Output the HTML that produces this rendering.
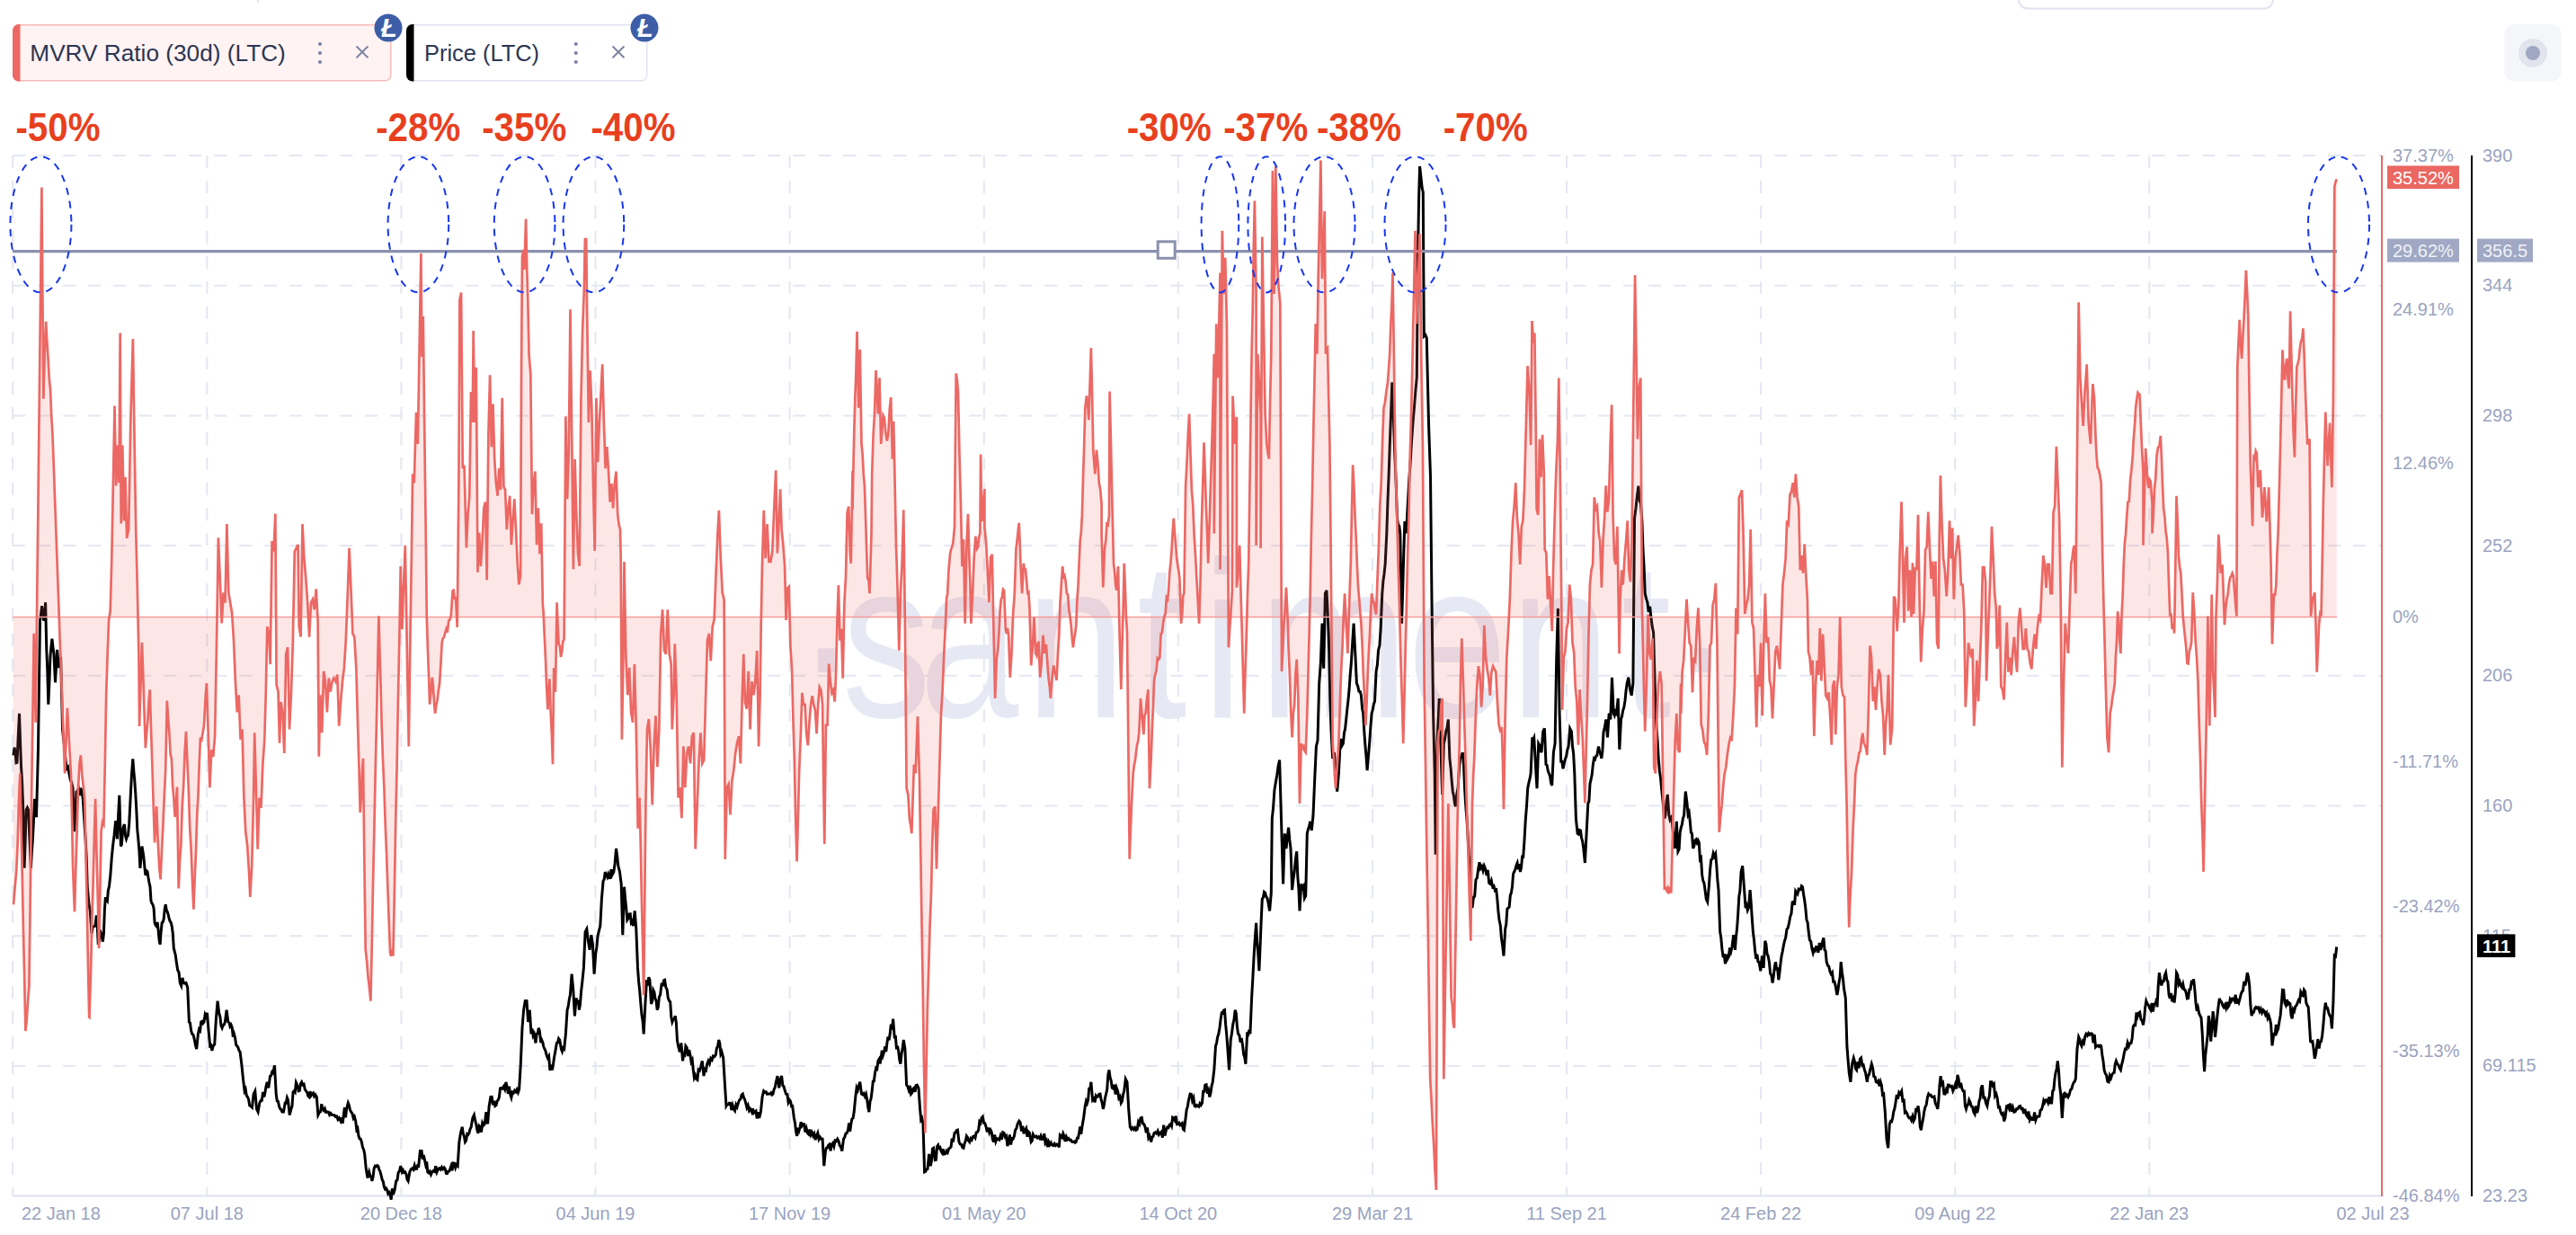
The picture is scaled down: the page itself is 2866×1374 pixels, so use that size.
<!DOCTYPE html>
<html><head><meta charset="utf-8"><title>MVRV Ratio (30d) (LTC) vs Price (LTC)</title>
<style>html,body{margin:0;padding:0;background:#fff;width:2866px;height:1374px;overflow:hidden}svg{display:block}</style>
</head><body>
<svg width="2866" height="1374" viewBox="0 0 2866 1374">
<rect width="2866" height="1374" fill="#fff"/>
<line x1="287" y1="0" x2="287" y2="2.8" stroke="#e0e4ef" stroke-width="2"/>
<rect x="2246" y="-40" width="283" height="49.5" rx="10" fill="#fff" stroke="#e0e4ef" stroke-width="2"/>
<rect x="2786.5" y="27" width="63" height="63.5" rx="11" fill="#f5f6fa"/>
<circle cx="2818" cy="59" r="16" fill="#e1e4ed"/><circle cx="2818" cy="59" r="8" fill="#9fa7c3"/>
<rect x="14.75" y="27.75" width="420" height="62" rx="6" fill="#fff3f3" stroke="#f6baba" stroke-width="1.5"/>
<path d="M21,27 h1.5 v63.5 h-1.5 a7,7 0 0 1 -7,-7 v-49.5 a7,7 0 0 1 7,-7 z" fill="#ec6864"/>
<text x="33.3" y="67.5" font-family="Liberation Sans, Arial, sans-serif" font-size="26" fill="#2c3652" textLength="284.5" lengthAdjust="spacingAndGlyphs">MVRV Ratio (30d) (LTC)</text>
<rect x="452.75" y="27.75" width="267" height="62" rx="6" fill="#fff" stroke="#e0e4ef" stroke-width="1.5"/>
<path d="M459,27 h1.5 v63.5 h-1.5 a7,7 0 0 1 -7,-7 v-49.5 a7,7 0 0 1 7,-7 z" fill="#000"/>
<text x="472" y="67.5" font-family="Liberation Sans, Arial, sans-serif" font-size="26" fill="#2c3652" textLength="128" lengthAdjust="spacingAndGlyphs">Price (LTC)</text>
<circle cx="356" cy="49" r="2.1" fill="#7d86a3"/>
<circle cx="356" cy="59" r="2.1" fill="#7d86a3"/>
<circle cx="356" cy="69" r="2.1" fill="#7d86a3"/>
<circle cx="640.75" cy="49" r="2.1" fill="#7d86a3"/>
<circle cx="640.75" cy="59" r="2.1" fill="#7d86a3"/>
<circle cx="640.75" cy="69" r="2.1" fill="#7d86a3"/>
<path d="M397.1,52 l11.8,11.8 M408.90000000000003,52 l-11.8,11.8" stroke="#7d86a3" stroke-width="2" stroke-linecap="round"/>
<path d="M682.1,52 l11.8,11.8 M693.9,52 l-11.8,11.8" stroke="#7d86a3" stroke-width="2" stroke-linecap="round"/>
<circle cx="432" cy="31" r="15.5" fill="#3d5ea6"/>
<text x="432.8" y="40.8" font-family="Liberation Sans, Arial, sans-serif" font-size="29" font-weight="bold" font-style="italic" fill="#fff" text-anchor="middle">Ł</text>
<circle cx="717" cy="31" r="15.5" fill="#3d5ea6"/>
<text x="717.8" y="40.8" font-family="Liberation Sans, Arial, sans-serif" font-size="29" font-weight="bold" font-style="italic" fill="#fff" text-anchor="middle">Ł</text>
<line x1="14.25" y1="173.0" x2="2650" y2="173.0" stroke="#e4e7f1" stroke-width="2" stroke-dasharray="14 14"/>
<line x1="14.25" y1="317.7" x2="2650" y2="317.7" stroke="#e4e7f1" stroke-width="2" stroke-dasharray="14 14"/>
<line x1="14.25" y1="462.4" x2="2650" y2="462.4" stroke="#e4e7f1" stroke-width="2" stroke-dasharray="14 14"/>
<line x1="14.25" y1="607.1" x2="2650" y2="607.1" stroke="#e4e7f1" stroke-width="2" stroke-dasharray="14 14"/>
<line x1="14.25" y1="751.8" x2="2650" y2="751.8" stroke="#e4e7f1" stroke-width="2" stroke-dasharray="14 14"/>
<line x1="14.25" y1="896.5" x2="2650" y2="896.5" stroke="#e4e7f1" stroke-width="2" stroke-dasharray="14 14"/>
<line x1="14.25" y1="1041.2" x2="2650" y2="1041.2" stroke="#e4e7f1" stroke-width="2" stroke-dasharray="14 14"/>
<line x1="14.25" y1="1185.9" x2="2650" y2="1185.9" stroke="#e4e7f1" stroke-width="2" stroke-dasharray="14 14"/>
<line x1="14.2" y1="173" x2="14.2" y2="1330.6" stroke="#e4e7f1" stroke-width="2" stroke-dasharray="14 14"/>
<line x1="230.3" y1="173" x2="230.3" y2="1330.6" stroke="#e4e7f1" stroke-width="2" stroke-dasharray="14 14"/>
<line x1="446.4" y1="173" x2="446.4" y2="1330.6" stroke="#e4e7f1" stroke-width="2" stroke-dasharray="14 14"/>
<line x1="662.5" y1="173" x2="662.5" y2="1330.6" stroke="#e4e7f1" stroke-width="2" stroke-dasharray="14 14"/>
<line x1="878.6" y1="173" x2="878.6" y2="1330.6" stroke="#e4e7f1" stroke-width="2" stroke-dasharray="14 14"/>
<line x1="1094.8" y1="173" x2="1094.8" y2="1330.6" stroke="#e4e7f1" stroke-width="2" stroke-dasharray="14 14"/>
<line x1="1310.8" y1="173" x2="1310.8" y2="1330.6" stroke="#e4e7f1" stroke-width="2" stroke-dasharray="14 14"/>
<line x1="1527.0" y1="173" x2="1527.0" y2="1330.6" stroke="#e4e7f1" stroke-width="2" stroke-dasharray="14 14"/>
<line x1="1743.0" y1="173" x2="1743.0" y2="1330.6" stroke="#e4e7f1" stroke-width="2" stroke-dasharray="14 14"/>
<line x1="1959.1" y1="173" x2="1959.1" y2="1330.6" stroke="#e4e7f1" stroke-width="2" stroke-dasharray="14 14"/>
<line x1="2175.2" y1="173" x2="2175.2" y2="1330.6" stroke="#e4e7f1" stroke-width="2" stroke-dasharray="14 14"/>
<line x1="2391.3" y1="173" x2="2391.3" y2="1330.6" stroke="#e4e7f1" stroke-width="2" stroke-dasharray="14 14"/>
<line x1="14.25" y1="1330.6" x2="2650" y2="1330.6" stroke="#dde1ee" stroke-width="2"/>
<text x="1114.6 1170.8 1278.9 1427.0 1581.6 1672.9 1751.5 1957.8 2101.0 2255.1 2334.2" y="798.5" dy="-50.8 50.8 0 0 0 0 0 0 0 0 -50.8" transform="scale(0.8,1)" font-family="Liberation Sans, sans-serif" font-size="248" fill="#e6e9f4">.santiment.</text>
<path d="M15.0,840.3 L16.0,831.7 L17.0,836.2 L18.0,848.7 L19.0,848.4 L20.2,820.5 L21.5,793.7 L22.5,823.7 L23.5,852.4 L24.5,868.1 L25.5,892.9 L27.1,965.8 L28.1,936.7 L29.1,901.0 L30.4,898.4 L31.6,901.0 L33.0,934.2 L34.4,965.8 L35.4,947.5 L36.4,933.4 L37.4,913.3 L38.5,888.9 L39.5,897.1 L40.5,909.1 L41.5,871.3 L42.5,832.2 L43.5,760.2 L44.5,690.5 L45.5,683.4 L46.6,674.3 L47.6,679.2 L48.6,690.5 L49.6,687.7 L50.6,670.2 L51.8,722.9 L52.8,746.8 L53.8,783.6 L54.9,759.0 L55.9,731.0 L56.9,719.7 L57.9,710.7 L58.9,719.6 L59.9,726.9 L61.5,759.3 L62.6,740.5 L63.6,722.9 L64.6,733.6 L65.6,743.1 L66.6,735.8 L67.6,731.0 L68.6,772.3 L69.6,811.9 L71.3,827.2 L72.9,844.3 L74.2,855.2 L75.6,853.5 L76.9,860.5 L78.3,867.7 L79.6,870.6 L81.0,876.7 L82.0,901.6 L83.0,925.3 L84.0,902.2 L85.0,880.8 L86.2,880.4 L87.4,877.2 L88.7,885.1 L89.9,876.7 L91.1,880.1 L92.3,888.9 L93.7,911.8 L95.1,933.4 L96.2,954.3 L97.2,986.0 L98.8,1004.2 L100.4,1014.4 L102.0,1038.7 L103.2,1031.3 L104.5,1030.6 L105.9,1030.2 L107.3,1018.4 L108.3,1031.0 L109.3,1050.8 L110.3,1046.7 L111.3,1034.6 L112.3,1037.8 L113.4,1042.7 L114.4,1047.7 L115.4,1038.7 L116.4,1011.8 L117.4,998.2 L118.4,1000.8 L119.4,1002.2 L120.4,990.6 L121.5,986.0 L122.8,974.3 L124.2,955.1 L125.5,941.5 L127.1,928.9 L128.7,913.2 L130.4,933.4 L131.6,907.7 L132.8,884.8 L134.4,941.5 L135.4,939.4 L136.4,925.3 L137.4,919.8 L138.5,917.2 L139.5,929.8 L140.5,933.4 L141.5,930.5 L142.5,929.4 L143.7,916.4 L144.9,892.9 L146.4,863.1 L147.8,844.3 L148.8,857.7 L149.8,868.6 L150.8,883.0 L151.8,901.0 L152.8,923.1 L153.8,933.4 L154.9,946.4 L155.9,965.8 L156.9,955.0 L157.9,941.5 L158.9,946.9 L159.9,953.6 L160.9,964.6 L161.9,973.9 L163.0,968.9 L164.0,969.8 L165.0,976.5 L166.0,982.0 L167.0,986.4 L168.0,1002.2 L169.0,1005.0 L170.0,1006.3 L171.1,1010.6 L172.1,1026.5 L173.1,1029.3 L174.1,1030.6 L175.1,1026.0 L176.1,1034.6 L177.1,1045.7 L178.1,1050.8 L179.1,1037.2 L180.2,1026.5 L181.2,1026.0 L182.2,1022.5 L183.2,1011.9 L184.2,1006.3 L185.2,1012.3 L186.2,1014.4 L187.2,1017.6 L188.3,1022.5 L189.3,1025.2 L190.3,1026.5 L191.3,1031.1 L192.3,1038.7 L193.3,1054.9 L194.3,1058.9 L195.3,1062.7 L196.4,1071.1 L197.7,1079.2 L199.0,1081.7 L200.3,1093.6 L201.7,1096.8 L203.0,1087.9 L204.3,1093.6 L205.7,1094.2 L207.0,1093.6 L208.7,1098.6 L210.4,1137.0 L211.5,1138.0 L212.6,1146.5 L213.7,1150.3 L215.0,1151.2 L216.4,1157.0 L217.5,1162.8 L218.7,1167.0 L220.4,1150.3 L221.5,1145.2 L222.6,1146.6 L223.7,1137.0 L224.8,1136.4 L225.9,1138.5 L227.0,1137.0 L228.2,1128.8 L229.3,1131.0 L230.4,1127.0 L232.1,1147.0 L233.7,1163.7 L234.8,1163.0 L235.9,1168.9 L237.1,1163.7 L238.7,1162.0 L240.4,1133.6 L242.1,1113.6 L243.7,1127.0 L244.9,1131.4 L246.0,1141.2 L247.1,1143.7 L248.2,1140.8 L249.3,1140.1 L250.4,1137.0 L252.1,1123.6 L253.8,1137.0 L254.9,1137.5 L256.0,1141.9 L257.1,1140.3 L258.2,1143.1 L259.3,1153.5 L260.4,1150.3 L261.5,1154.2 L262.7,1162.5 L263.8,1163.7 L264.9,1165.3 L266.0,1168.9 L267.1,1170.4 L268.8,1183.7 L270.5,1200.4 L272.1,1213.8 L273.2,1211.7 L274.3,1218.9 L275.5,1220.5 L276.6,1223.1 L277.7,1230.0 L278.8,1230.5 L280.5,1232.1 L282.1,1217.1 L283.8,1213.8 L285.5,1233.8 L287.1,1237.1 L288.8,1227.1 L290.1,1224.5 L291.3,1224.4 L292.6,1214.9 L293.8,1220.5 L294.9,1215.5 L296.0,1208.7 L297.2,1203.8 L298.8,1210.4 L300.5,1197.1 L301.6,1196.8 L302.7,1192.7 L303.8,1193.7 L305.5,1185.4 L307.2,1217.1 L308.3,1224.9 L309.4,1225.4 L310.5,1230.5 L311.6,1233.6 L312.7,1234.3 L313.9,1237.1 L315.5,1237.1 L317.2,1227.1 L318.3,1227.2 L319.4,1221.2 L320.5,1223.8 L322.2,1240.5 L323.9,1233.8 L325.0,1230.5 L326.1,1214.9 L327.2,1213.8 L328.3,1215.1 L329.4,1204.4 L330.6,1207.1 L332.2,1213.8 L333.3,1213.4 L334.4,1205.8 L335.6,1203.8 L336.8,1206.9 L338.1,1206.2 L339.3,1212.1 L340.6,1213.8 L341.7,1215.4 L342.8,1219.4 L343.9,1220.5 L345.0,1214.2 L346.1,1218.8 L347.2,1217.1 L348.5,1216.0 L349.7,1219.8 L351.0,1218.1 L352.3,1220.5 L353.9,1240.5 L355.6,1237.1 L356.7,1236.7 L357.8,1228.3 L358.9,1233.8 L360.2,1235.4 L361.4,1233.4 L362.7,1237.4 L363.9,1237.1 L365.3,1237.2 L366.6,1240.3 L367.9,1238.5 L369.3,1240.4 L370.6,1240.5 L372.0,1240.6 L373.3,1242.4 L374.6,1241.9 L376.0,1245.5 L377.3,1243.8 L379.0,1247.2 L380.1,1243.4 L381.2,1249.8 L382.3,1240.5 L383.4,1232.1 L384.5,1243.3 L385.6,1233.8 L387.3,1227.1 L388.4,1229.8 L389.5,1235.0 L390.7,1237.1 L391.9,1238.9 L393.2,1244.2 L394.4,1242.4 L395.7,1247.2 L396.8,1256.8 L397.9,1255.3 L399.0,1263.9 L400.1,1266.8 L401.2,1267.2 L402.3,1270.5 L403.5,1276.6 L404.6,1278.8 L405.7,1283.9 L407.3,1300.6 L409.0,1310.6 L410.7,1303.9 L411.8,1307.9 L412.9,1309.5 L414.0,1313.9 L415.1,1309.0 L416.2,1299.6 L417.4,1297.2 L418.5,1297.9 L419.6,1296.6 L420.7,1297.2 L421.8,1301.2 L422.9,1303.2 L424.0,1307.3 L425.2,1312.4 L426.3,1314.6 L427.4,1320.6 L428.5,1323.0 L429.6,1322.0 L430.7,1324.0 L431.8,1328.0 L432.9,1326.6 L434.1,1329.0 L435.2,1334.6 L436.3,1322.3 L437.4,1329.0 L439.1,1324.0 L440.7,1313.9 L442.0,1313.0 L443.2,1304.4 L444.5,1302.9 L445.7,1297.2 L447.4,1303.9 L448.5,1302.0 L449.6,1304.5 L450.8,1303.9 L451.9,1306.2 L453.0,1312.2 L454.1,1313.9 L455.8,1303.9 L457.4,1300.6 L458.7,1299.9 L459.9,1301.2 L461.2,1296.5 L462.4,1300.6 L463.6,1300.4 L464.7,1296.8 L465.8,1297.2 L467.4,1280.6 L469.1,1280.6 L470.2,1289.8 L471.3,1285.1 L472.5,1290.6 L473.6,1295.8 L474.7,1292.4 L475.8,1303.9 L477.0,1304.9 L478.3,1303.3 L479.5,1306.7 L480.8,1303.9 L482.1,1302.6 L483.5,1303.4 L484.8,1297.3 L486.1,1303.9 L487.5,1300.6 L488.8,1299.7 L490.2,1301.1 L491.5,1298.5 L492.8,1300.6 L494.2,1298.9 L495.3,1300.5 L496.4,1305.4 L497.5,1305.6 L498.6,1303.3 L499.7,1303.0 L500.8,1300.6 L501.9,1297.4 L503.1,1302.3 L504.2,1293.9 L505.4,1294.1 L506.7,1299.1 L507.9,1295.8 L509.2,1297.2 L510.9,1270.5 L512.5,1260.5 L514.2,1253.8 L515.3,1261.3 L516.4,1264.0 L517.5,1270.5 L518.6,1269.0 L519.8,1261.5 L520.9,1262.2 L522.0,1260.4 L523.1,1256.0 L524.2,1253.8 L525.9,1243.8 L527.5,1240.5 L528.7,1246.7 L529.8,1251.0 L530.9,1257.2 L532.0,1260.8 L533.1,1252.6 L534.2,1253.8 L535.5,1259.6 L536.7,1249.3 L538.0,1251.9 L539.2,1250.5 L540.9,1237.1 L542.6,1250.5 L544.2,1230.5 L545.9,1220.5 L547.2,1220.4 L548.4,1229.3 L549.7,1224.8 L550.9,1230.5 L552.0,1229.7 L553.1,1225.1 L554.3,1223.8 L555.4,1220.6 L556.5,1210.8 L557.6,1210.4 L558.9,1211.2 L560.3,1208.8 L561.6,1211.8 L562.9,1203.9 L564.3,1210.4 L565.4,1216.8 L566.5,1208.8 L567.6,1217.1 L568.9,1221.1 L570.1,1215.1 L571.4,1215.9 L572.6,1213.2 L573.9,1214.7 L575.1,1212.2 L576.4,1215.5 L577.6,1212.1 L579.3,1183.7 L581.0,1143.7 L582.6,1123.6 L584.3,1113.6 L586.0,1113.6 L587.6,1137.0 L589.3,1123.6 L591.0,1150.3 L592.1,1144.5 L593.2,1152.3 L594.3,1150.3 L596.0,1160.4 L597.1,1150.5 L598.2,1149.8 L599.3,1143.7 L600.4,1147.2 L601.6,1159.9 L602.7,1157.0 L603.8,1159.7 L604.9,1164.8 L606.0,1167.0 L607.1,1169.8 L608.2,1174.3 L609.3,1177.0 L610.6,1174.9 L611.9,1190.9 L613.1,1184.6 L614.4,1190.4 L615.5,1184.3 L616.6,1176.3 L617.7,1170.4 L619.4,1160.4 L620.5,1159.9 L621.6,1155.5 L622.7,1157.0 L624.4,1167.0 L625.5,1169.8 L626.6,1165.9 L627.7,1167.0 L629.4,1150.3 L631.1,1123.6 L632.2,1119.6 L633.3,1111.9 L634.4,1106.9 L636.1,1083.6 L637.7,1100.3 L639.4,1130.3 L641.1,1110.3 L642.2,1116.4 L643.3,1112.7 L644.4,1123.6 L645.5,1117.1 L646.6,1103.0 L647.7,1093.6 L649.4,1076.9 L651.1,1036.8 L652.8,1033.5 L654.4,1046.8 L656.1,1056.8 L657.8,1040.2 L659.4,1050.2 L661.1,1083.6 L662.8,1060.2 L663.9,1053.9 L665.0,1041.5 L666.1,1036.8 L667.8,1030.1 L669.4,1000.1 L671.1,980.1 L672.2,978.5 L673.3,970.1 L674.5,973.4 L675.6,975.8 L676.7,972.6 L677.8,976.7 L678.9,976.6 L680.0,967.2 L681.1,973.4 L682.8,970.0 L684.1,960.9 L685.5,944.0 L686.6,951.8 L687.8,963.4 L689.5,970.0 L691.2,983.4 L692.8,1040.2 L694.5,986.7 L695.6,999.6 L696.7,1010.0 L697.8,1023.5 L698.9,1021.8 L700.1,1017.0 L701.2,1016.8 L702.3,1026.5 L703.4,1025.0 L704.5,1030.1 L706.2,1013.4 L707.8,1033.5 L709.5,1076.9 L710.6,1091.7 L711.7,1102.2 L712.9,1116.9 L714.0,1129.1 L715.1,1136.2 L716.2,1150.3 L717.9,1116.9 L719.5,1090.2 L720.6,1096.4 L721.8,1087.2 L722.9,1090.2 L724.5,1116.9 L725.7,1113.8 L726.8,1101.4 L727.9,1103.6 L729.0,1111.1 L730.1,1113.5 L731.2,1123.6 L732.3,1120.6 L733.4,1108.9 L734.6,1106.9 L736.2,1093.6 L737.3,1097.3 L738.5,1090.7 L739.6,1090.2 L740.8,1098.3 L742.1,1100.9 L743.3,1110.4 L744.6,1113.6 L745.7,1114.5 L746.8,1131.5 L747.9,1137.0 L749.0,1134.2 L750.1,1133.8 L751.3,1130.3 L752.4,1138.4 L753.5,1157.8 L754.6,1163.7 L756.3,1170.4 L757.9,1160.4 L759.6,1180.4 L760.7,1172.4 L761.8,1173.5 L762.9,1163.7 L764.2,1165.6 L765.4,1175.0 L766.7,1168.0 L767.9,1173.7 L769.1,1181.4 L770.2,1179.2 L771.3,1190.4 L772.4,1199.0 L773.5,1196.5 L774.6,1200.4 L775.9,1201.4 L777.1,1190.1 L778.4,1191.1 L779.6,1187.1 L781.3,1180.4 L783.0,1197.1 L784.2,1189.5 L785.5,1190.7 L786.7,1183.9 L788.0,1180.4 L789.4,1183.4 L790.8,1177.5 L792.2,1179.2 L793.5,1174.8 L794.9,1175.5 L796.3,1173.7 L797.4,1166.3 L798.6,1163.9 L799.7,1157.0 L800.8,1160.8 L801.9,1172.7 L803.0,1170.4 L804.7,1177.0 L806.3,1203.8 L808.0,1230.5 L809.1,1228.8 L810.2,1228.8 L811.4,1227.1 L812.6,1227.4 L813.9,1235.1 L815.1,1229.6 L816.4,1233.8 L817.6,1235.7 L818.9,1229.1 L820.1,1231.5 L821.4,1227.1 L822.6,1223.8 L823.9,1222.8 L825.1,1218.2 L826.4,1217.1 L827.5,1221.1 L828.6,1223.2 L829.7,1227.1 L831.0,1232.3 L832.2,1229.8 L833.5,1235.6 L834.7,1233.8 L836.4,1237.1 L837.5,1233.3 L838.6,1238.2 L839.7,1237.1 L841.0,1236.1 L842.2,1244.4 L843.5,1237.2 L844.7,1243.8 L846.4,1237.1 L848.1,1220.5 L849.7,1213.8 L851.0,1215.2 L852.3,1214.8 L853.5,1217.3 L854.8,1217.1 L856.7,1217.1 L857.8,1215.8 L858.9,1217.9 L860.0,1217.1 L861.1,1212.1 L862.2,1210.0 L863.4,1203.8 L865.0,1197.1 L866.7,1210.4 L868.4,1200.4 L869.6,1197.0 L870.9,1208.0 L872.1,1208.8 L873.4,1213.8 L874.6,1217.3 L875.9,1217.6 L877.1,1226.4 L878.4,1223.8 L879.5,1225.2 L880.6,1230.7 L881.7,1230.5 L883.4,1243.8 L884.5,1249.1 L885.6,1258.8 L886.7,1263.9 L887.8,1254.7 L889.0,1257.8 L890.1,1253.8 L891.2,1248.3 L892.3,1252.4 L893.4,1250.5 L894.7,1250.6 L895.9,1259.5 L897.2,1255.5 L898.4,1260.5 L899.7,1261.9 L900.9,1256.7 L902.2,1262.4 L903.4,1259.9 L904.7,1263.6 L905.9,1261.4 L907.2,1268.2 L908.4,1263.9 L909.8,1260.5 L911.1,1267.5 L912.4,1265.1 L913.8,1267.2 L915.1,1267.2 L916.8,1297.2 L918.4,1280.6 L919.6,1277.1 L920.7,1276.8 L921.8,1273.9 L922.9,1273.1 L924.0,1280.4 L925.1,1273.9 L926.5,1271.9 L927.8,1275.5 L929.1,1268.9 L930.5,1269.5 L931.8,1267.2 L933.1,1269.7 L934.3,1274.5 L935.6,1276.0 L936.8,1280.6 L938.5,1267.2 L939.7,1265.3 L941.0,1261.0 L942.2,1260.5 L943.5,1257.2 L944.6,1249.5 L945.7,1258.7 L946.8,1250.5 L947.9,1244.9 L949.1,1244.0 L950.2,1237.1 L951.8,1220.5 L953.1,1210.2 L954.3,1212.9 L955.6,1207.3 L956.8,1203.8 L958.5,1217.1 L959.8,1217.8 L961.0,1216.5 L962.3,1219.8 L963.5,1217.1 L964.6,1222.8 L965.7,1231.4 L966.9,1237.1 L968.0,1225.3 L969.1,1222.2 L970.2,1213.8 L971.3,1202.9 L972.4,1202.7 L973.5,1193.7 L974.7,1188.3 L975.8,1189.2 L976.9,1180.4 L978.0,1178.4 L979.1,1183.4 L980.2,1177.0 L981.3,1168.8 L982.4,1174.1 L983.6,1170.4 L984.7,1164.2 L985.8,1170.1 L986.9,1160.4 L988.0,1153.6 L989.1,1157.2 L990.2,1150.3 L991.3,1139.7 L992.5,1145.4 L993.6,1133.6 L995.2,1153.7 L996.4,1153.5 L997.5,1167.3 L998.6,1163.7 L999.7,1169.6 L1000.8,1179.3 L1001.9,1183.7 L1003.0,1172.2 L1004.1,1166.9 L1005.3,1157.0 L1006.9,1167.0 L1008.6,1207.1 L1009.8,1208.6 L1011.1,1212.7 L1012.4,1208.0 L1013.6,1217.1 L1014.7,1215.8 L1015.8,1211.3 L1016.9,1210.4 L1018.1,1214.8 L1019.2,1207.6 L1020.3,1207.1 L1022.0,1210.4 L1023.6,1233.8 L1024.7,1246.0 L1025.8,1244.3 L1027.0,1250.5 L1028.6,1303.9 L1029.7,1303.4 L1030.9,1300.8 L1032.0,1300.6 L1033.6,1283.9 L1035.3,1297.2 L1036.4,1291.5 L1037.5,1278.0 L1038.6,1277.2 L1040.3,1290.6 L1041.4,1290.3 L1042.5,1275.8 L1043.7,1273.9 L1044.8,1277.3 L1045.9,1276.6 L1047.0,1280.6 L1048.1,1282.4 L1049.2,1278.2 L1050.3,1283.9 L1051.7,1283.6 L1053.0,1280.5 L1054.3,1282.2 L1055.7,1277.9 L1057.0,1277.2 L1058.1,1275.8 L1059.2,1266.8 L1060.4,1270.5 L1062.0,1260.5 L1063.1,1260.0 L1064.2,1257.7 L1065.4,1257.2 L1067.0,1270.5 L1068.3,1272.9 L1069.5,1273.2 L1070.8,1276.6 L1072.0,1277.2 L1073.1,1272.1 L1074.3,1269.2 L1075.4,1263.9 L1076.5,1265.4 L1077.6,1269.0 L1078.7,1270.5 L1080.0,1266.7 L1081.2,1268.1 L1082.5,1264.6 L1083.7,1263.9 L1085.0,1265.9 L1086.2,1259.9 L1087.5,1259.5 L1088.7,1257.2 L1089.8,1247.9 L1091.0,1249.4 L1092.1,1243.8 L1093.3,1242.5 L1094.6,1249.4 L1095.8,1249.8 L1097.1,1253.8 L1098.3,1259.4 L1099.6,1254.6 L1100.8,1260.0 L1102.1,1257.2 L1103.2,1259.5 L1104.3,1267.1 L1105.4,1270.5 L1106.7,1262.4 L1107.9,1269.9 L1109.2,1266.7 L1110.4,1267.2 L1111.8,1268.1 L1113.1,1263.7 L1114.4,1267.8 L1115.8,1259.8 L1117.1,1260.5 L1118.4,1265.0 L1119.6,1263.9 L1120.9,1275.1 L1122.1,1270.5 L1123.4,1262.5 L1124.6,1273.5 L1125.9,1266.8 L1127.1,1267.2 L1128.4,1264.1 L1129.6,1257.3 L1130.9,1255.3 L1132.1,1250.5 L1133.8,1247.2 L1135.1,1248.6 L1136.5,1258.5 L1137.8,1252.6 L1139.1,1261.4 L1140.5,1257.2 L1141.7,1255.3 L1143.0,1264.7 L1144.2,1259.1 L1145.5,1260.5 L1147.2,1270.5 L1148.3,1269.1 L1149.4,1262.0 L1150.5,1263.9 L1151.8,1264.9 L1153.0,1264.1 L1154.3,1266.0 L1155.5,1264.9 L1156.8,1266.6 L1158.0,1263.7 L1159.3,1267.4 L1160.5,1267.2 L1161.8,1261.2 L1163.0,1271.3 L1164.3,1269.1 L1165.5,1276.1 L1166.8,1270.7 L1168.0,1273.6 L1169.3,1271.3 L1170.5,1273.9 L1171.9,1274.5 L1173.2,1272.4 L1174.5,1274.5 L1175.9,1273.2 L1177.2,1273.9 L1178.3,1276.4 L1179.4,1262.8 L1180.6,1263.9 L1181.7,1265.4 L1182.8,1261.1 L1183.9,1263.9 L1185.1,1269.9 L1186.4,1264.9 L1187.6,1267.8 L1188.9,1266.6 L1190.2,1268.6 L1191.4,1268.3 L1192.7,1270.4 L1193.9,1270.5 L1195.0,1269.9 L1196.1,1271.2 L1197.2,1270.5 L1198.4,1266.2 L1199.5,1266.1 L1200.6,1260.5 L1201.7,1253.4 L1202.8,1261.7 L1203.9,1253.8 L1205.6,1243.8 L1207.3,1230.5 L1208.4,1225.1 L1209.5,1227.5 L1210.6,1223.8 L1211.7,1211.3 L1212.8,1211.1 L1213.9,1203.8 L1215.6,1223.8 L1216.9,1222.3 L1218.1,1226.4 L1219.4,1219.0 L1220.6,1220.5 L1221.7,1220.0 L1222.8,1217.3 L1224.0,1217.1 L1225.1,1223.5 L1226.2,1227.1 L1227.3,1233.8 L1228.4,1229.4 L1229.5,1221.6 L1230.6,1217.1 L1231.7,1212.3 L1232.9,1195.1 L1234.0,1190.4 L1235.1,1198.9 L1236.2,1202.4 L1237.3,1210.4 L1238.6,1211.2 L1239.8,1206.8 L1241.1,1217.6 L1242.3,1210.4 L1243.6,1213.9 L1244.8,1221.7 L1246.1,1220.0 L1247.3,1227.1 L1248.4,1225.2 L1249.6,1217.6 L1250.7,1213.8 L1252.3,1200.4 L1254.0,1203.8 L1255.7,1233.8 L1257.3,1253.8 L1258.7,1256.2 L1260.0,1254.5 L1261.4,1256.5 L1262.7,1254.6 L1264.0,1257.2 L1265.3,1256.3 L1266.5,1248.2 L1267.8,1250.5 L1269.0,1243.8 L1270.3,1243.4 L1271.5,1250.2 L1272.8,1250.7 L1274.0,1253.8 L1275.3,1260.1 L1276.5,1254.5 L1277.8,1265.9 L1279.0,1263.9 L1280.7,1270.5 L1281.8,1265.1 L1282.9,1264.5 L1284.1,1260.5 L1285.4,1259.9 L1286.7,1261.1 L1288.1,1258.2 L1289.4,1262.2 L1290.7,1260.5 L1292.1,1259.2 L1293.4,1265.7 L1294.7,1251.6 L1296.1,1263.4 L1297.4,1257.2 L1298.7,1254.2 L1299.9,1254.6 L1301.2,1251.5 L1302.4,1250.5 L1303.5,1252.7 L1304.6,1243.1 L1305.8,1243.8 L1307.0,1246.2 L1308.3,1241.6 L1309.5,1250.7 L1310.8,1250.5 L1311.9,1249.4 L1313.0,1251.6 L1314.1,1250.5 L1315.2,1249.6 L1316.3,1256.2 L1317.4,1257.2 L1319.1,1243.8 L1320.2,1234.6 L1321.3,1231.1 L1322.5,1223.8 L1324.1,1217.1 L1325.4,1217.5 L1326.6,1224.5 L1327.9,1221.4 L1329.1,1230.5 L1330.2,1231.1 L1331.4,1229.6 L1332.5,1230.5 L1333.7,1231.3 L1335.0,1227.8 L1336.2,1229.5 L1337.5,1227.1 L1338.6,1214.5 L1339.7,1214.4 L1340.8,1207.1 L1342.1,1206.7 L1343.3,1216.6 L1344.6,1213.2 L1345.8,1220.5 L1346.9,1216.1 L1348.1,1208.1 L1349.2,1203.8 L1350.8,1190.4 L1352.5,1163.7 L1353.6,1160.1 L1354.7,1153.5 L1355.8,1150.3 L1357.0,1143.3 L1358.1,1134.1 L1359.2,1127.0 L1360.3,1127.2 L1361.4,1124.1 L1362.5,1123.6 L1363.6,1139.4 L1364.7,1150.7 L1365.9,1167.0 L1367.5,1190.4 L1369.2,1157.0 L1370.5,1149.5 L1371.7,1139.7 L1373.0,1134.1 L1374.2,1123.6 L1375.3,1127.6 L1376.4,1142.1 L1377.5,1150.3 L1378.8,1151.5 L1380.1,1159.6 L1381.3,1155.0 L1382.6,1163.7 L1383.7,1173.1 L1384.8,1176.2 L1385.9,1183.7 L1387.6,1150.3 L1388.7,1151.0 L1389.8,1145.7 L1390.9,1150.3 L1392.6,1110.3 L1393.7,1091.0 L1394.8,1069.6 L1395.9,1050.2 L1397.6,1026.8 L1398.7,1049.7 L1399.8,1061.8 L1400.9,1080.2 L1402.0,1054.3 L1403.1,1026.0 L1404.3,1000.1 L1405.4,998.6 L1406.5,992.4 L1407.6,993.4 L1408.7,997.6 L1409.8,998.9 L1410.9,1003.4 L1412.6,1013.4 L1414.3,993.4 L1415.3,910.6 L1416.6,898.3 L1417.9,879.3 L1419.3,870.5 L1420.7,862.8 L1422.2,851.9 L1423.6,845.5 L1425.0,893.9 L1426.3,939.3 L1427.6,983.4 L1429.3,927.3 L1431.0,944.0 L1432.3,931.7 L1433.6,920.6 L1434.8,934.4 L1436.0,944.0 L1437.6,990.1 L1438.9,978.4 L1440.2,969.3 L1441.4,956.0 L1442.7,947.3 L1443.8,975.2 L1444.9,989.0 L1446.0,1013.4 L1447.7,983.4 L1448.9,988.2 L1450.2,986.0 L1451.4,999.2 L1452.7,996.7 L1454.3,927.3 L1455.5,922.2 L1456.6,919.2 L1457.7,913.9 L1459.3,923.9 L1461.0,907.2 L1462.7,867.2 L1464.4,830.5 L1466.0,823.8 L1467.7,760.3 L1469.4,737.0 L1471.0,693.6 L1472.7,743.6 L1474.4,660.2 L1476.0,656.8 L1477.7,693.6 L1478.8,726.9 L1479.9,779.7 L1481.1,813.8 L1482.7,843.8 L1484.4,837.1 L1485.5,850.9 L1486.6,869.0 L1487.7,880.5 L1489.4,860.5 L1491.1,827.1 L1492.2,822.0 L1493.3,829.1 L1494.4,827.1 L1495.5,815.3 L1496.6,810.9 L1497.7,800.4 L1498.9,788.6 L1500.0,778.8 L1501.1,767.0 L1502.2,750.8 L1503.3,738.5 L1504.4,720.3 L1506.1,693.6 L1507.8,726.9 L1509.4,760.3 L1510.7,763.1 L1511.9,769.2 L1513.2,769.3 L1514.4,773.7 L1515.6,788.2 L1516.7,793.6 L1517.8,813.8 L1518.9,829.2 L1520.0,841.4 L1521.1,857.2 L1522.8,837.1 L1523.9,823.6 L1525.0,807.5 L1526.1,793.7 L1527.2,789.9 L1528.4,783.2 L1529.5,780.4 L1531.1,747.0 L1532.4,739.6 L1533.6,723.0 L1534.9,718.3 L1536.1,700.2 L1537.8,660.2 L1538.9,646.4 L1540.0,638.5 L1541.2,626.8 L1542.8,593.4 L1544.0,556.8 L1545.2,527.3 L1546.4,491.1 L1547.6,459.6 L1548.8,425.4 L1550.3,461.8 L1551.7,502.6 L1553.1,535.0 L1554.5,576.7 L1555.6,584.2 L1556.7,584.8 L1557.8,593.4 L1559.5,693.6 L1560.6,659.0 L1561.7,617.2 L1562.9,580.0 L1564.5,593.4 L1565.6,573.5 L1566.8,551.1 L1567.9,532.0 L1569.3,511.9 L1570.6,490.0 L1572.0,470.0 L1573.4,454.2 L1574.9,435.0 L1576.3,420.0 L1577.3,300.0 L1578.6,220.0 L1579.6,185.0 L1581.2,200.0 L1582.2,209.2 L1583.3,214.0 L1583.8,300.0 L1584.3,374.0 L1585.8,372.6 L1587.3,376.0 L1588.3,420.0 L1589.6,474.0 L1591.5,530.0 L1593.0,668.2 L1594.6,793.7 L1596.2,860.5 L1597.2,950.7 L1598.9,827.1 L1600.1,801.5 L1601.3,777.0 L1602.9,827.1 L1604.6,883.9 L1606.3,827.1 L1607.5,822.2 L1608.8,813.2 L1610.0,809.7 L1611.3,800.4 L1612.9,843.8 L1614.1,854.9 L1615.2,868.9 L1616.3,880.5 L1617.4,885.3 L1618.5,894.2 L1619.6,897.2 L1620.9,882.6 L1622.1,876.8 L1623.4,856.3 L1624.6,843.8 L1626.0,841.3 L1627.3,837.1 L1628.5,851.2 L1629.6,877.2 L1630.7,896.0 L1631.9,910.0 L1633.0,927.3 L1634.2,951.9 L1635.5,967.8 L1636.7,995.8 L1638.0,1010.1 L1639.3,999.1 L1640.7,996.9 L1642.0,978.6 L1643.3,976.9 L1644.7,966.7 L1646.0,959.3 L1647.3,966.0 L1648.7,963.8 L1650.0,968.6 L1651.3,963.4 L1652.7,966.8 L1654.0,974.0 L1655.3,968.0 L1656.7,982.5 L1658.0,983.4 L1659.3,979.8 L1660.7,986.7 L1662.0,985.7 L1663.4,990.9 L1664.7,990.1 L1665.8,1000.0 L1666.9,1013.4 L1668.0,1023.5 L1669.3,1029.5 L1670.5,1044.1 L1671.8,1052.9 L1673.0,1063.5 L1674.7,1033.5 L1675.8,1027.7 L1676.9,1011.2 L1678.0,1010.1 L1679.2,1009.0 L1680.3,996.3 L1681.4,993.4 L1682.5,986.4 L1683.6,972.2 L1684.7,970.0 L1685.8,967.3 L1687.0,962.7 L1688.1,960.0 L1689.2,967.3 L1690.3,961.2 L1691.4,970.0 L1692.5,965.5 L1693.6,953.2 L1694.7,953.3 L1696.0,934.9 L1697.2,913.2 L1698.5,896.8 L1699.7,877.2 L1700.9,870.9 L1702.0,866.7 L1703.1,860.5 L1704.8,820.4 L1705.0,823.8 L1706.7,820.4 L1707.8,838.8 L1708.9,859.3 L1710.0,877.2 L1711.7,827.1 L1712.8,829.0 L1713.9,834.5 L1715.0,837.1 L1716.7,813.8 L1718.4,810.4 L1720.0,850.5 L1721.1,851.3 L1722.3,857.8 L1723.4,860.5 L1724.5,863.4 L1725.6,871.0 L1726.7,873.9 L1728.4,837.1 L1730.1,827.1 L1731.7,733.6 L1733.4,676.9 L1735.1,793.7 L1736.7,847.1 L1737.8,847.2 L1739.0,855.2 L1740.1,850.5 L1741.3,844.9 L1742.6,841.6 L1743.8,834.2 L1745.1,830.5 L1746.7,810.4 L1748.4,813.8 L1749.5,830.3 L1750.6,838.0 L1751.8,860.5 L1753.4,910.6 L1755.1,927.3 L1756.2,928.0 L1757.3,923.5 L1758.4,923.9 L1759.5,931.8 L1760.7,936.1 L1761.8,944.0 L1763.4,960.0 L1765.1,927.3 L1766.8,893.9 L1767.9,891.4 L1769.0,872.0 L1770.1,867.2 L1771.2,861.8 L1772.3,851.0 L1773.5,843.8 L1774.6,844.7 L1775.7,841.0 L1776.8,840.5 L1778.5,830.5 L1779.6,835.8 L1780.7,838.8 L1781.8,843.8 L1782.9,835.7 L1784.0,814.6 L1785.1,810.4 L1786.8,800.4 L1788.5,820.4 L1790.2,793.7 L1791.8,800.4 L1793.5,753.7 L1795.2,793.7 L1796.3,796.1 L1797.4,791.9 L1798.5,793.7 L1800.2,777.0 L1801.8,833.8 L1803.5,800.4 L1804.6,796.7 L1805.7,790.3 L1806.8,787.0 L1808.0,779.4 L1809.1,768.1 L1810.2,760.3 L1811.9,753.7 L1813.5,767.0 L1815.2,773.7 L1816.9,760.3 L1818.5,576.7 L1820.0,565.4 L1821.4,552.0 L1822.9,540.6 L1824.2,557.2 L1825.5,560.4 L1826.9,580.0 L1828.0,611.1 L1829.1,631.2 L1830.2,660.2 L1831.6,666.1 L1832.9,670.1 L1834.2,680.8 L1835.6,674.7 L1836.9,686.9 L1838.2,696.9 L1839.6,703.6 L1840.7,743.5 L1841.9,787.0 L1843.0,808.8 L1844.1,824.2 L1845.2,843.8 L1846.4,858.0 L1847.5,865.1 L1848.6,877.2 L1850.3,893.9 L1851.9,910.6 L1853.0,906.4 L1854.1,891.5 L1855.3,883.9 L1856.9,907.2 L1858.0,912.1 L1859.2,909.9 L1860.3,913.9 L1861.4,925.6 L1862.5,932.7 L1863.6,944.0 L1865.3,913.9 L1866.9,947.3 L1868.1,944.9 L1869.2,926.0 L1870.3,920.6 L1871.4,917.3 L1872.5,910.2 L1873.6,907.2 L1875.3,880.5 L1877.0,893.9 L1878.1,906.1 L1879.2,903.8 L1880.3,913.9 L1881.4,926.4 L1882.5,927.4 L1883.6,944.0 L1884.8,941.2 L1885.9,935.2 L1887.0,934.0 L1888.1,937.3 L1889.2,934.9 L1890.3,937.3 L1891.4,956.0 L1892.5,954.6 L1893.7,973.4 L1894.8,979.9 L1895.9,982.3 L1897.0,990.1 L1898.3,1000.4 L1899.7,1003.4 L1901.3,986.7 L1902.5,968.8 L1903.7,956.7 L1904.9,955.9 L1906.2,949.3 L1907.4,952.6 L1908.7,950.0 L1909.8,962.7 L1910.9,979.3 L1912.0,990.1 L1913.7,1036.8 L1914.8,1043.3 L1915.9,1055.7 L1917.0,1063.5 L1918.3,1062.9 L1919.5,1072.3 L1920.8,1061.8 L1922.0,1066.9 L1923.3,1064.6 L1924.5,1054.4 L1925.8,1058.7 L1927.0,1053.5 L1928.7,1040.2 L1930.4,1056.8 L1931.5,1042.4 L1932.6,1032.6 L1933.7,1016.8 L1934.8,997.3 L1935.9,991.1 L1937.1,970.0 L1938.7,963.4 L1940.4,986.7 L1942.1,1010.1 L1943.2,1007.5 L1944.3,1012.7 L1945.4,1010.1 L1947.1,990.1 L1948.2,1004.6 L1949.3,1021.8 L1950.4,1036.8 L1951.5,1045.6 L1952.6,1057.5 L1953.8,1066.9 L1954.9,1061.7 L1956.0,1070.0 L1957.1,1070.2 L1958.8,1080.2 L1960.4,1063.5 L1962.1,1076.9 L1963.8,1046.8 L1964.9,1050.3 L1966.0,1061.2 L1967.1,1063.5 L1968.4,1070.4 L1969.6,1083.1 L1970.9,1085.2 L1972.1,1093.6 L1973.2,1086.4 L1974.3,1075.9 L1975.5,1070.2 L1976.6,1077.9 L1977.7,1077.7 L1978.8,1090.2 L1979.9,1082.5 L1981.0,1071.8 L1982.1,1063.5 L1983.2,1058.6 L1984.4,1051.8 L1985.5,1046.8 L1986.7,1043.2 L1988.0,1033.7 L1989.2,1032.4 L1990.5,1026.8 L1991.7,1020.1 L1993.0,1016.5 L1994.2,1003.7 L1995.5,1003.4 L1996.6,1006.9 L1997.7,991.6 L1998.8,993.4 L1999.9,994.7 L2001.1,989.3 L2002.2,990.1 L2003.3,989.6 L2004.4,985.7 L2005.5,986.7 L2006.6,995.1 L2007.7,1001.5 L2008.8,1010.1 L2010.0,1023.5 L2011.1,1026.1 L2012.2,1036.8 L2013.4,1045.9 L2014.7,1047.2 L2015.9,1055.1 L2017.2,1060.2 L2018.3,1056.5 L2019.4,1057.6 L2020.5,1053.5 L2021.8,1053.6 L2023.0,1059.9 L2024.3,1049.0 L2025.5,1056.8 L2026.7,1053.0 L2027.8,1047.2 L2028.9,1043.5 L2030.0,1056.6 L2031.1,1058.1 L2032.2,1070.2 L2033.5,1074.2 L2034.7,1074.9 L2036.0,1080.9 L2037.2,1083.6 L2038.5,1081.9 L2039.7,1092.2 L2041.0,1092.1 L2042.2,1096.9 L2043.9,1106.9 L2045.0,1100.9 L2046.1,1092.5 L2047.2,1086.9 L2048.2,1070.2 L2049.4,1081.5 L2050.5,1089.3 L2051.6,1100.3 L2053.3,1110.3 L2054.9,1163.7 L2056.1,1179.4 L2057.3,1193.7 L2058.9,1203.8 L2060.6,1183.7 L2062.3,1177.0 L2063.4,1180.8 L2064.5,1188.9 L2065.6,1190.4 L2066.9,1181.1 L2068.1,1188.4 L2069.4,1178.2 L2070.6,1177.0 L2071.9,1185.2 L2073.1,1184.8 L2074.4,1190.2 L2075.6,1193.7 L2077.3,1203.8 L2078.4,1196.3 L2079.5,1195.5 L2080.6,1190.4 L2082.3,1183.7 L2083.6,1188.1 L2084.8,1197.6 L2086.1,1198.1 L2087.3,1203.8 L2088.6,1204.4 L2089.8,1202.7 L2091.1,1208.3 L2092.3,1203.8 L2093.4,1207.6 L2094.5,1217.9 L2095.7,1217.1 L2097.3,1237.1 L2099.0,1267.2 L2100.7,1277.2 L2102.3,1250.5 L2103.5,1247.5 L2104.6,1247.9 L2105.7,1243.8 L2106.8,1236.9 L2107.9,1233.3 L2109.0,1227.1 L2110.3,1218.0 L2111.5,1222.8 L2112.8,1215.5 L2114.0,1217.1 L2115.7,1213.8 L2116.9,1224.8 L2118.2,1224.2 L2119.4,1237.9 L2120.7,1237.1 L2121.8,1238.8 L2122.9,1242.2 L2124.0,1243.8 L2125.3,1243.3 L2126.5,1246.1 L2127.8,1242.1 L2129.0,1247.2 L2130.3,1244.6 L2131.6,1234.7 L2132.8,1235.4 L2134.1,1230.5 L2135.2,1238.8 L2136.3,1253.7 L2137.4,1257.2 L2138.5,1249.8 L2139.6,1244.9 L2140.7,1237.1 L2142.0,1231.5 L2143.2,1229.1 L2144.5,1220.8 L2145.7,1217.1 L2147.0,1218.6 L2148.2,1218.2 L2149.5,1220.5 L2150.8,1220.5 L2152.0,1219.9 L2153.3,1227.8 L2154.5,1229.8 L2155.8,1233.8 L2156.9,1223.8 L2158.0,1207.0 L2159.1,1197.1 L2160.4,1206.2 L2161.6,1204.7 L2162.9,1216.9 L2164.1,1217.1 L2165.2,1213.1 L2166.3,1216.4 L2167.4,1207.1 L2168.8,1207.2 L2170.1,1209.0 L2171.5,1208.5 L2172.8,1213.5 L2174.1,1210.4 L2175.4,1206.5 L2176.6,1211.3 L2177.9,1196.0 L2179.1,1200.4 L2180.4,1210.2 L2181.6,1204.9 L2182.9,1211.3 L2184.1,1213.8 L2185.3,1213.9 L2186.4,1230.4 L2187.5,1233.8 L2188.6,1229.8 L2189.7,1228.9 L2190.8,1223.8 L2192.1,1226.5 L2193.3,1231.1 L2194.6,1231.4 L2195.8,1237.1 L2197.1,1239.4 L2198.3,1230.5 L2199.6,1238.1 L2200.8,1233.8 L2201.9,1225.4 L2203.1,1221.6 L2204.2,1210.4 L2205.5,1207.4 L2206.8,1221.2 L2208.2,1221.1 L2209.5,1227.2 L2210.9,1230.5 L2212.1,1223.2 L2213.4,1219.4 L2214.6,1203.8 L2215.9,1203.8 L2217.1,1207.7 L2218.4,1206.1 L2219.6,1219.3 L2220.9,1217.1 L2222.1,1221.2 L2223.4,1231.8 L2224.6,1231.5 L2225.9,1237.1 L2227.1,1239.6 L2228.4,1238.6 L2229.6,1247.4 L2230.9,1243.8 L2232.6,1230.5 L2233.9,1229.9 L2235.3,1233.3 L2236.7,1227.7 L2238.1,1236.8 L2239.5,1232.2 L2240.9,1237.1 L2242.2,1236.5 L2243.6,1233.6 L2244.9,1233.7 L2246.2,1231.2 L2247.6,1230.5 L2248.9,1233.6 L2250.3,1233.4 L2251.6,1239.0 L2252.9,1233.9 L2254.3,1240.5 L2255.6,1242.3 L2256.9,1236.5 L2258.3,1246.0 L2259.6,1243.6 L2260.9,1245.5 L2262.3,1245.5 L2263.6,1237.6 L2264.9,1246.0 L2266.3,1242.2 L2267.6,1242.2 L2268.9,1242.0 L2270.1,1235.3 L2271.4,1234.5 L2272.6,1230.5 L2273.7,1224.6 L2274.8,1226.7 L2276.0,1223.8 L2277.3,1223.7 L2278.6,1226.8 L2280.0,1220.2 L2281.3,1227.1 L2282.6,1227.1 L2283.8,1213.7 L2284.9,1212.5 L2286.0,1200.4 L2287.1,1193.1 L2288.2,1189.6 L2289.3,1180.4 L2290.4,1190.4 L2291.5,1207.9 L2292.7,1217.1 L2294.3,1243.8 L2296.0,1217.1 L2297.2,1216.3 L2298.5,1219.6 L2299.7,1218.2 L2301.0,1220.5 L2302.3,1217.8 L2303.5,1212.5 L2304.8,1211.5 L2306.0,1207.1 L2307.1,1204.3 L2308.2,1203.3 L2309.3,1200.4 L2311.0,1167.0 L2312.7,1153.7 L2313.8,1156.1 L2314.9,1161.4 L2316.0,1163.7 L2317.3,1158.5 L2318.5,1160.4 L2319.8,1153.0 L2321.0,1150.3 L2322.4,1152.1 L2323.7,1149.5 L2325.0,1151.0 L2326.4,1149.7 L2327.7,1150.3 L2329.0,1160.3 L2330.2,1150.9 L2331.5,1164.9 L2332.7,1163.7 L2334.0,1163.1 L2335.2,1164.3 L2336.5,1163.1 L2337.7,1163.7 L2338.8,1173.4 L2340.0,1180.4 L2341.1,1190.4 L2342.3,1194.3 L2343.6,1196.0 L2344.8,1203.2 L2346.1,1203.8 L2347.3,1196.7 L2348.6,1199.4 L2349.8,1195.6 L2351.1,1193.7 L2352.2,1193.3 L2353.3,1183.9 L2354.4,1180.4 L2355.7,1183.7 L2356.9,1184.8 L2358.2,1188.6 L2359.4,1190.4 L2360.7,1183.8 L2361.9,1179.4 L2363.2,1172.2 L2364.4,1167.0 L2365.8,1167.2 L2367.1,1160.1 L2368.4,1163.8 L2369.8,1160.6 L2371.1,1160.4 L2372.2,1155.0 L2373.3,1142.3 L2374.5,1140.3 L2375.7,1140.6 L2377.0,1126.5 L2378.2,1130.9 L2379.5,1127.0 L2380.7,1126.1 L2382.0,1134.4 L2383.2,1135.1 L2384.5,1140.3 L2385.6,1133.0 L2386.7,1120.6 L2387.8,1113.6 L2389.1,1116.9 L2390.3,1118.0 L2391.6,1121.7 L2392.8,1123.6 L2394.1,1115.9 L2395.3,1125.6 L2396.6,1117.4 L2397.8,1116.9 L2398.8,1114.2 L2399.8,1110.3 L2400.0,1120.4 L2401.2,1096.7 L2402.4,1082.2 L2403.6,1090.8 L2404.8,1096.5 L2406.0,1091.6 L2407.2,1091.7 L2408.4,1085.1 L2409.6,1082.2 L2410.7,1090.0 L2411.9,1092.2 L2413.1,1107.0 L2414.3,1110.9 L2415.5,1105.0 L2416.7,1114.4 L2417.9,1107.6 L2419.1,1115.6 L2420.3,1104.3 L2421.5,1082.2 L2422.7,1084.3 L2423.9,1094.8 L2425.1,1092.3 L2426.3,1096.5 L2427.5,1098.3 L2428.7,1094.6 L2429.9,1100.7 L2431.1,1101.3 L2432.2,1104.5 L2433.4,1110.9 L2434.6,1110.6 L2435.8,1101.0 L2437.0,1100.8 L2438.2,1092.6 L2439.4,1093.5 L2440.6,1089.4 L2441.8,1100.7 L2443.0,1115.6 L2444.2,1124.7 L2445.4,1121.1 L2446.6,1127.2 L2447.8,1130.0 L2449.0,1132.2 L2450.2,1149.1 L2451.4,1173.8 L2452.6,1192.1 L2453.7,1173.8 L2454.9,1163.4 L2456.1,1152.2 L2457.3,1130.0 L2458.5,1138.1 L2459.7,1158.6 L2460.9,1143.8 L2462.1,1125.2 L2463.3,1135.1 L2464.5,1153.9 L2465.7,1143.4 L2466.9,1130.0 L2468.1,1119.7 L2469.3,1110.9 L2470.5,1114.0 L2471.7,1114.9 L2472.9,1118.6 L2474.0,1120.4 L2475.2,1118.2 L2476.4,1121.4 L2477.6,1114.7 L2478.8,1120.4 L2480.0,1118.6 L2481.2,1111.8 L2482.4,1113.9 L2483.6,1110.9 L2484.8,1110.8 L2486.0,1113.2 L2487.2,1106.7 L2488.4,1116.5 L2489.6,1113.5 L2490.8,1115.6 L2492.0,1111.5 L2493.2,1106.1 L2494.4,1103.1 L2495.5,1102.2 L2496.7,1092.0 L2497.9,1096.5 L2499.1,1090.6 L2500.3,1082.2 L2501.5,1086.7 L2502.7,1096.5 L2503.9,1118.5 L2505.1,1130.0 L2506.3,1127.0 L2507.5,1126.0 L2508.7,1121.7 L2509.9,1120.4 L2511.2,1121.8 L2512.6,1120.8 L2514.0,1125.2 L2515.3,1122.5 L2516.7,1126.7 L2518.1,1123.7 L2519.4,1125.2 L2520.6,1128.9 L2521.8,1126.9 L2523.0,1132.7 L2524.2,1130.0 L2525.4,1133.6 L2526.6,1139.5 L2528.0,1163.4 L2529.9,1149.1 L2531.1,1152.4 L2532.3,1139.9 L2533.5,1147.4 L2534.7,1144.3 L2535.9,1136.5 L2537.1,1130.0 L2538.3,1116.6 L2539.5,1101.3 L2540.7,1101.5 L2541.9,1115.6 L2543.1,1118.1 L2544.3,1112.1 L2545.5,1117.0 L2546.7,1115.6 L2547.9,1116.5 L2549.1,1130.0 L2550.2,1133.2 L2551.4,1123.0 L2552.6,1124.8 L2553.8,1119.8 L2555.0,1118.6 L2556.2,1115.6 L2557.4,1112.6 L2558.6,1114.0 L2559.8,1103.7 L2561.0,1106.1 L2562.2,1107.4 L2563.4,1101.3 L2564.6,1103.1 L2565.8,1115.6 L2567.0,1118.6 L2568.2,1120.4 L2569.4,1138.9 L2570.6,1158.6 L2571.7,1159.3 L2572.9,1158.6 L2574.1,1167.6 L2575.3,1177.7 L2576.5,1172.5 L2577.7,1163.4 L2578.9,1156.1 L2580.1,1166.6 L2581.3,1159.2 L2582.5,1158.6 L2583.7,1151.7 L2584.9,1139.5 L2586.1,1124.9 L2587.3,1115.6 L2588.5,1121.7 L2589.7,1121.7 L2590.9,1127.1 L2592.1,1130.0 L2593.2,1131.8 L2594.4,1144.3 L2595.9,1115.6 L2597.3,1063.1 L2598.5,1063.9 L2599.7,1053.5" fill="none" stroke="#000" stroke-width="3"/>
<path d="M15.0,686.6 L15.0,1006.3 L16.6,987.3 L18.2,969.8 L19.6,939.3 L20.9,892.4 L22.3,860.5 L23.5,918.1 L24.7,972.1 L25.9,1032.1 L27.1,1084.1 L28.3,1143.9 L28.4,1147.0 L29.7,1135.2 L31.1,1112.8 L32.4,1096.9 L32.4,1095.3 L33.7,998.4 L35.0,894.3 L36.3,803.8 L37.7,704.7 L38.7,749.7 L39.7,803.8 L41.0,685.5 L42.4,564.2 L43.7,450.5 L45.1,326.6 L46.4,208.4 L47.4,334.0 L48.4,443.8 L49.7,393.8 L51.1,357.7 L52.3,379.2 L53.5,398.4 L54.8,422.0 L56.0,432.9 L57.2,462.7 L58.4,482.2 L59.8,519.2 L61.2,559.3 L62.5,595.0 L63.9,634.4 L65.2,669.9 L66.6,711.0 L68.0,746.2 L69.3,785.7 L70.7,821.9 L72.1,860.5 L73.5,825.7 L74.9,787.7 L76.2,811.0 L77.6,837.0 L78.9,860.5 L80.0,905.4 L81.0,961.7 L82.0,990.3 L83.0,1014.4 L84.3,965.5 L85.7,923.4 L87.0,876.7 L88.5,849.4 L89.9,840.3 L91.4,864.0 L92.8,874.6 L94.3,892.9 L95.5,953.7 L96.8,1008.4 L98.0,1075.9 L99.2,1131.8 L99.5,1132.0 L101.2,1075.1 L102.4,1020.8 L103.6,983.4 L104.9,929.8 L106.1,888.9 L107.4,947.5 L108.8,998.5 L110.1,1054.9 L111.3,992.6 L112.6,925.3 L114.0,914.7 L115.4,917.2 L116.8,850.2 L118.2,771.5 L119.6,728.6 L121.1,689.5 L122.7,679.8 L124.3,621.5 L125.9,537.3 L127.5,451.5 L129.1,540.5 L130.8,495.2 L132.4,537.3 L133.7,370.5 L134.7,582.6 L136.3,495.2 L137.9,579.4 L139.5,530.8 L141.1,598.8 L143.1,589.1 L144.2,531.7 L145.3,469.3 L146.6,422.4 L147.9,377.0 L149.6,491.9 L151.2,589.1 L152.8,653.9 L154.4,730.0 L155.1,807.9 L156.5,762.2 L157.9,714.8 L159.2,748.9 L160.6,794.4 L161.9,832.2 L163.2,815.2 L164.4,802.0 L165.6,779.9 L166.8,767.4 L168.1,813.3 L169.4,851.2 L170.7,896.4 L172.1,937.4 L173.1,915.3 L174.1,897.0 L175.7,936.1 L177.3,965.8 L178.6,978.4 L180.0,946.0 L181.4,918.7 L182.8,885.2 L184.2,856.5 L185.8,779.6 L187.1,798.8 L188.4,815.8 L189.6,838.7 L190.9,844.6 L192.1,874.5 L193.4,889.2 L194.7,908.9 L195.8,893.0 L197.0,875.5 L198.7,988.4 L200.1,957.5 L201.4,939.0 L202.8,896.4 L204.2,874.1 L205.6,836.7 L207.0,813.8 L208.4,847.6 L209.8,877.9 L211.2,920.9 L212.6,943.4 L214.0,980.3 L215.4,1011.8 L216.6,979.0 L217.9,950.1 L219.2,907.9 L220.5,885.0 L221.8,847.5 L223.0,820.4 L224.0,825.2 L225.0,819.0 L226.9,807.6 L228.8,773.3 L229.9,760.0 L231.5,811.4 L233.4,876.1 L235.3,834.2 L237.2,841.8 L239.1,819.0 L241.0,716.3 L242.9,598.3 L244.8,643.9 L246.7,693.4 L248.6,659.2 L250.5,670.6 L252.4,583.1 L254.3,659.2 L256.2,670.6 L258.1,682.0 L260.0,712.4 L261.9,758.1 L263.8,792.4 L265.7,773.3 L267.6,822.8 L269.5,811.4 L271.4,887.5 L273.3,925.6 L275.2,940.8 L277.1,971.2 L278.3,997.9 L280.2,963.6 L282.1,887.5 L283.2,815.2 L284.7,868.5 L286.7,944.6 L288.6,887.5 L290.5,898.9 L292.4,849.4 L294.3,822.8 L295.8,769.5 L297.3,697.2 L299.2,704.8 L300.7,739.1 L302.6,602.1 L304.5,613.5 L306.4,571.6 L307.6,761.9 L309.5,769.5 L311.0,826.6 L312.5,780.9 L314.4,792.4 L316.3,838.0 L318.2,727.7 L320.1,720.1 L322.0,811.4 L323.9,773.3 L325.8,716.3 L327.8,613.5 L329.7,609.7 L331.6,605.9 L332.7,697.2 L334.6,708.6 L336.5,583.1 L338.4,621.1 L340.3,643.9 L342.2,670.6 L344.1,708.6 L346.0,670.6 L347.9,666.8 L349.8,678.2 L351.7,655.4 L353.6,689.6 L354.8,841.8 L356.3,773.3 L358.2,815.2 L360.1,746.7 L362.0,758.1 L363.9,792.4 L365.8,754.3 L367.7,769.5 L369.6,758.1 L371.5,754.3 L373.4,758.1 L375.3,750.5 L377.2,807.6 L379.1,780.9 L381.0,758.1 L382.9,742.9 L384.8,712.4 L386.7,663.0 L388.6,609.7 L390.5,655.4 L392.4,704.8 L394.3,708.6 L396.3,742.9 L398.2,811.4 L399.4,851.0 L400.7,903.9 L401.8,888.1 L402.9,858.6 L404.0,843.8 L405.3,952.3 L406.7,1056.8 L408.1,1068.8 L409.5,1086.6 L410.9,1098.7 L412.4,1113.6 L413.6,1058.8 L414.9,988.9 L416.2,930.8 L417.5,867.0 L418.8,809.3 L420.1,745.3 L421.4,685.2 L422.5,726.9 L423.6,764.4 L424.7,807.1 L426.0,846.0 L427.4,876.7 L428.7,917.1 L430.1,951.0 L431.4,988.7 L432.7,1023.2 L434.1,1060.2 L435.2,1063.7 L436.3,1056.2 L437.4,1063.5 L438.8,996.4 L440.2,914.0 L441.6,852.2 L443.0,773.7 L444.4,708.2 L445.7,630.1 L447.4,700.2 L448.5,665.7 L449.6,638.7 L450.8,606.7 L452.1,680.6 L453.4,756.6 L454.8,830.5 L456.2,725.0 L457.7,629.2 L459.1,527.3 L460.8,537.3 L461.9,497.3 L463.1,458.8 L464.8,493.9 L466.0,426.0 L467.2,351.4 L468.4,281.9 L469.4,397.1 L470.8,352.0 L472.1,464.4 L473.5,574.5 L474.8,686.9 L475.9,721.2 L477.0,750.6 L478.1,783.7 L479.5,769.6 L480.8,753.7 L481.9,763.2 L483.0,781.9 L484.1,793.7 L485.4,784.3 L486.6,778.7 L487.9,767.9 L489.1,760.3 L490.4,738.9 L491.7,714.9 L492.8,710.1 L494.0,708.9 L495.1,704.7 L496.5,699.9 L497.8,703.5 L499.2,690.6 L500.5,689.2 L501.9,684.3 L503.6,657.1 L504.7,656.7 L505.9,667.0 L507.0,663.9 L508.7,697.9 L510.4,538.1 L511.4,334.0 L513.1,325.5 L514.8,521.1 L516.5,517.7 L517.7,562.8 L518.9,609.5 L520.6,572.1 L522.3,551.7 L524.0,436.0 L525.7,470.0 L526.7,368.0 L528.1,470.0 L529.8,408.8 L531.5,636.7 L533.2,592.5 L534.9,629.9 L536.6,602.7 L538.3,565.3 L540.0,558.5 L541.7,645.2 L543.4,483.6 L545.1,417.3 L546.8,497.2 L548.5,449.6 L550.2,510.8 L551.9,538.1 L553.6,551.7 L555.3,521.1 L557.0,544.9 L558.7,442.8 L560.4,541.5 L562.1,544.9 L563.8,589.1 L565.5,565.3 L567.2,551.7 L568.9,606.1 L570.6,578.9 L572.3,555.1 L574.0,589.1 L575.7,626.5 L577.4,650.3 L579.1,640.1 L580.1,402.0 L581.0,285.0 L582.6,277.9 L583.4,300.0 L585.1,243.5 L586.3,300.0 L587.2,329.9 L588.6,395.2 L590.3,415.6 L592.0,572.1 L593.7,538.1 L595.4,524.5 L597.1,606.1 L598.8,565.3 L600.5,616.3 L602.2,582.3 L603.9,674.1 L604.6,679.9 L605.8,708.0 L607.0,733.8 L608.2,765.9 L609.4,789.4 L610.4,771.6 L611.4,755.4 L612.6,790.7 L613.8,815.2 L615.0,850.2 L616.2,743.1 L617.9,770.0 L619.6,670.3 L620.6,695.6 L621.6,716.6 L622.8,718.6 L624.0,730.9 L625.2,725.1 L626.4,713.2 L627.6,711.5 L629.4,463.2 L631.1,555.1 L632.8,504.0 L634.5,344.2 L636.2,487.0 L637.9,633.3 L639.6,510.8 L641.3,572.1 L643.0,616.3 L644.7,629.9 L646.4,446.2 L648.1,368.0 L649.8,323.8 L650.9,266.0 L652.2,266.0 L653.2,351.0 L654.9,470.0 L656.6,412.2 L658.3,453.0 L660.0,538.1 L661.7,612.9 L663.4,442.8 L665.1,514.2 L666.8,470.0 L668.0,450.4 L669.1,426.1 L670.2,405.4 L671.9,470.0 L673.6,521.1 L675.3,497.2 L677.0,524.5 L678.7,558.5 L680.4,538.1 L682.1,565.3 L683.8,538.1 L685.5,524.5 L687.2,572.1 L688.6,583.6 L690.0,589.1 L690.7,621.1 L691.9,822.8 L693.4,735.3 L694.5,624.9 L696.4,731.5 L698.3,773.3 L700.2,742.9 L702.1,792.4 L704.0,803.8 L705.9,739.1 L707.8,811.4 L709.7,921.8 L711.6,887.5 L712.8,941.1 L713.9,999.7 L715.1,1051.2 L716.2,1107.1 L717.3,1000.2 L718.5,887.5 L720.0,811.4 L721.9,800.0 L723.8,834.2 L725.7,895.1 L727.6,830.4 L729.5,796.2 L731.4,853.3 L733.3,811.4 L735.2,704.8 L737.1,678.2 L739.0,723.9 L740.9,727.7 L742.8,678.2 L744.7,727.7 L746.7,739.1 L747.8,811.4 L749.7,773.3 L750.8,716.3 L752.7,773.3 L754.6,887.5 L756.5,876.1 L758.4,910.3 L760.4,830.4 L762.3,876.1 L764.2,838.0 L766.1,830.4 L768.0,849.4 L769.9,819.0 L771.8,815.2 L773.7,944.6 L775.6,898.9 L777.5,849.4 L779.4,815.2 L781.3,849.4 L783.2,845.6 L785.1,777.1 L787.0,712.4 L788.9,704.8 L790.8,735.3 L792.7,697.2 L794.6,689.6 L796.5,640.1 L798.4,594.5 L799.9,567.8 L801.8,621.1 L803.7,659.2 L805.6,666.8 L806.8,956.0 L808.7,876.1 L810.6,872.3 L812.5,906.5 L814.4,868.5 L816.3,857.1 L818.2,838.0 L820.1,826.6 L822.0,819.0 L823.9,849.4 L825.8,773.3 L827.3,727.7 L828.9,780.9 L830.8,788.6 L832.7,746.7 L834.6,811.4 L836.5,758.1 L838.4,773.3 L840.3,758.1 L842.2,723.9 L844.1,830.4 L845.6,773.3 L846.7,697.2 L847.9,632.5 L849.8,567.8 L851.7,621.1 L853.6,583.1 L855.5,624.9 L857.4,624.9 L859.3,613.5 L861.2,567.8 L862.2,544.7 L863.2,523.2 L864.9,615.5 L866.5,583.1 L868.1,544.2 L869.7,589.6 L871.3,605.7 L873.0,628.4 L874.6,690.0 L876.2,654.3 L877.8,652.7 L879.4,719.1 L881.1,745.0 L882.4,799.4 L883.8,843.3 L885.2,911.6 L886.6,958.5 L887.9,908.2 L889.1,860.0 L890.8,819.5 L892.4,770.9 L894.0,783.9 L895.6,783.9 L897.2,816.3 L898.9,829.2 L900.5,803.3 L902.1,783.9 L903.7,774.2 L905.3,783.9 L907.0,790.4 L908.6,816.3 L910.2,783.9 L911.8,764.5 L913.4,767.7 L915.1,783.9 L916.2,867.6 L917.3,939.0 L918.9,806.6 L920.6,806.6 L922.2,738.5 L923.8,758.0 L925.4,770.9 L927.0,767.7 L928.7,780.6 L930.0,751.5 L931.6,686.7 L932.9,651.1 L934.5,712.6 L936.1,699.7 L937.7,754.7 L939.4,670.5 L941.0,641.4 L942.6,570.1 L944.2,563.6 L945.8,615.5 L946.8,626.8 L948.5,523.9 L948.5,566.7 L950.2,483.9 L951.3,444.5 L952.4,414.9 L953.5,368.7 L955.2,453.8 L956.8,388.7 L958.5,493.9 L959.6,505.2 L960.7,526.4 L961.9,540.6 L963.0,574.0 L964.1,609.9 L965.2,643.5 L966.4,645.3 L967.5,660.2 L968.5,627.5 L969.5,593.4 L970.2,527.3 L971.6,483.5 L973.1,458.8 L974.5,412.1 L975.7,434.0 L976.9,460.5 L978.5,420.4 L980.2,493.9 L981.4,478.8 L982.6,462.2 L983.9,465.0 L985.2,480.5 L986.9,490.6 L988.3,483.0 L989.8,454.6 L991.2,442.1 L992.9,510.6 L994.2,468.8 L995.6,538.0 L996.9,603.4 L998.6,656.8 L1000.3,723.6 L1001.9,660.2 L1003.6,626.8 L1005.3,567.3 L1005.3,570.0 L1006.9,693.6 L1008.6,877.2 L1010.3,883.9 L1011.9,910.6 L1013.1,917.7 L1014.3,927.3 L1015.6,890.0 L1016.9,850.5 L1018.6,860.5 L1019.8,828.0 L1021.0,797.1 L1022.0,835.5 L1023.0,867.2 L1024.2,944.4 L1025.5,1025.3 L1026.8,1102.4 L1028.0,1185.1 L1029.3,1260.5 L1030.6,1187.8 L1032.0,1116.9 L1033.3,1075.5 L1034.6,1029.4 L1036.0,993.5 L1037.3,936.9 L1038.6,900.6 L1040.3,897.2 L1042.0,966.7 L1043.2,924.2 L1044.5,879.4 L1045.7,838.0 L1047.0,793.7 L1048.7,767.0 L1050.3,726.9 L1052.0,693.6 L1053.1,665.7 L1054.2,660.5 L1055.3,636.8 L1057.0,616.8 L1058.1,611.2 L1059.2,608.7 L1060.4,603.4 L1062.0,586.7 L1063.7,415.4 L1064.9,422.9 L1066.0,437.1 L1067.5,507.2 L1068.9,558.2 L1070.4,630.1 L1072.0,600.1 L1073.7,693.6 L1075.4,606.7 L1077.0,571.7 L1078.2,613.4 L1079.3,646.3 L1080.4,693.6 L1082.1,660.2 L1083.7,620.1 L1085.4,596.7 L1087.1,610.1 L1088.2,608.0 L1089.3,597.2 L1090.4,593.4 L1091.1,505.6 L1092.1,580.0 L1093.2,576.9 L1094.3,555.1 L1095.4,544.0 L1095.4,586.7 L1097.1,603.4 L1098.7,633.5 L1100.4,670.2 L1102.1,620.1 L1103.8,616.8 L1104.9,674.2 L1106.0,722.9 L1107.1,777.0 L1108.8,733.6 L1110.4,720.3 L1111.5,703.3 L1112.7,677.5 L1113.8,666.8 L1114.9,664.3 L1116.0,655.7 L1117.1,656.8 L1118.8,700.2 L1119.9,705.0 L1121.0,698.9 L1122.1,706.9 L1123.8,753.7 L1125.5,726.9 L1127.1,683.5 L1128.8,660.2 L1130.5,610.1 L1131.6,601.8 L1132.7,590.1 L1133.8,581.7 L1135.5,626.8 L1137.1,660.2 L1138.8,626.8 L1139.9,634.4 L1141.0,633.8 L1142.2,646.8 L1143.3,659.5 L1144.4,658.7 L1145.5,676.9 L1147.2,740.3 L1148.8,720.3 L1150.5,686.9 L1152.2,726.9 L1153.3,729.2 L1154.4,717.3 L1155.5,713.6 L1157.2,753.7 L1158.8,737.0 L1160.5,706.9 L1162.2,726.9 L1163.9,716.9 L1165.5,740.3 L1166.6,754.7 L1167.8,764.0 L1168.9,777.0 L1170.5,753.7 L1172.2,740.3 L1173.3,746.6 L1174.4,750.7 L1175.5,757.0 L1177.2,723.6 L1178.3,706.5 L1179.4,672.0 L1180.6,653.5 L1182.2,630.1 L1183.3,641.3 L1184.4,640.2 L1185.6,646.8 L1186.8,659.6 L1188.1,662.0 L1189.3,678.1 L1190.6,686.9 L1191.7,695.7 L1192.8,710.0 L1193.9,720.3 L1195.0,711.7 L1196.1,705.6 L1197.2,696.9 L1198.4,666.8 L1199.5,652.4 L1200.6,626.8 L1201.7,601.5 L1202.8,592.7 L1203.9,573.4 L1205.0,532.6 L1206.1,498.6 L1207.3,453.8 L1208.9,440.5 L1210.1,448.3 L1211.3,467.2 L1212.6,427.9 L1213.9,387.0 L1215.1,440.5 L1216.3,500.6 L1217.3,514.7 L1218.3,527.3 L1219.9,500.6 L1221.4,514.8 L1222.8,537.3 L1224.2,544.9 L1225.6,560.7 L1225.6,593.4 L1227.3,653.5 L1229.0,610.1 L1230.2,601.8 L1231.5,582.8 L1232.7,583.9 L1234.0,573.4 L1234.6,435.5 L1236.1,498.5 L1237.5,563.8 L1239.0,626.8 L1240.1,635.9 L1241.2,651.1 L1242.3,656.8 L1244.0,630.1 L1245.7,710.3 L1247.3,767.0 L1248.4,719.5 L1249.6,680.7 L1250.7,626.8 L1251.8,651.2 L1252.9,686.5 L1254.0,703.6 L1255.3,822.5 L1256.7,955.7 L1256.7,955.0 L1257.8,925.4 L1259.0,893.9 L1260.7,860.5 L1261.8,851.8 L1262.9,846.6 L1264.0,837.1 L1265.1,828.6 L1266.2,824.7 L1267.4,813.8 L1269.0,777.0 L1270.1,789.6 L1271.3,804.5 L1272.4,817.1 L1273.5,796.0 L1274.6,793.6 L1275.7,780.4 L1277.4,767.0 L1279.0,877.2 L1280.7,843.8 L1281.8,812.3 L1282.9,787.5 L1284.1,757.0 L1285.3,750.1 L1286.6,746.1 L1287.8,732.2 L1289.1,733.6 L1290.3,732.1 L1291.6,705.1 L1292.8,704.3 L1294.1,693.6 L1295.3,686.0 L1296.6,683.0 L1297.8,664.8 L1299.1,666.8 L1300.2,655.6 L1301.3,636.6 L1302.4,626.8 L1303.5,613.3 L1304.6,592.5 L1305.8,576.7 L1306.9,593.3 L1308.0,604.6 L1309.1,620.1 L1310.2,628.8 L1311.3,634.9 L1312.4,643.5 L1314.1,693.6 L1315.2,683.4 L1316.3,662.5 L1317.4,660.2 L1319.1,540.6 L1320.5,515.4 L1321.8,484.1 L1323.1,460.5 L1324.5,505.3 L1325.8,544.0 L1327.2,561.1 L1328.6,595.1 L1330.0,617.8 L1331.4,644.7 L1332.7,667.6 L1334.1,693.6 L1335.5,649.1 L1336.8,586.1 L1338.1,543.5 L1339.5,492.2 L1340.7,524.8 L1341.8,561.6 L1343.0,590.7 L1344.2,626.8 L1345.6,583.4 L1347.1,534.0 L1348.5,488.9 L1349.7,442.1 L1350.8,393.7 L1350.8,593.4 L1352.0,476.0 L1353.2,360.3 L1354.8,420.4 L1356.2,362.8 L1357.5,303.6 L1357.5,633.5 L1358.7,443.0 L1359.8,256.8 L1361.5,326.9 L1363.2,286.9 L1364.9,360.3 L1365.9,541.1 L1366.9,720.3 L1368.2,698.4 L1369.5,680.9 L1370.9,656.8 L1371.5,440.5 L1372.9,466.2 L1374.2,493.9 L1375.9,463.8 L1375.9,653.5 L1377.0,642.9 L1378.1,620.6 L1379.2,606.7 L1380.5,659.7 L1381.7,699.5 L1383.0,748.8 L1384.2,793.7 L1385.5,747.0 L1386.7,711.0 L1388.0,660.5 L1389.2,626.8 L1390.3,549.9 L1391.5,466.7 L1392.6,393.7 L1393.7,345.8 L1394.8,274.7 L1395.9,223.4 L1397.6,326.9 L1397.6,606.7 L1399.2,393.7 L1400.4,417.0 L1401.5,437.5 L1402.6,460.5 L1402.6,610.1 L1404.3,263.5 L1405.9,360.3 L1407.6,460.5 L1409.3,493.9 L1410.6,504.1 L1411.9,510.6 L1413.1,444.8 L1414.3,393.7 L1415.9,190.1 L1417.6,326.9 L1419.3,185.0 L1421.0,293.6 L1422.6,320.3 L1424.3,337.0 L1426.0,747.0 L1427.2,724.6 L1428.5,693.4 L1429.7,677.6 L1431.0,653.5 L1432.3,679.7 L1433.6,721.0 L1435.0,752.6 L1436.3,794.1 L1437.6,820.4 L1438.9,793.6 L1440.2,784.1 L1441.4,749.5 L1442.7,733.6 L1444.3,773.7 L1446.0,893.9 L1447.7,827.1 L1448.9,833.9 L1450.2,828.6 L1451.4,835.4 L1452.7,837.1 L1454.3,793.7 L1455.5,747.8 L1456.6,705.5 L1457.7,660.2 L1458.9,596.3 L1460.1,543.5 L1461.3,479.4 L1462.5,421.1 L1463.7,360.3 L1465.4,393.7 L1466.5,318.6 L1467.7,260.2 L1469.4,178.4 L1471.0,310.3 L1472.4,277.9 L1473.7,235.1 L1475.0,393.7 L1476.0,388.2 L1477.0,387.0 L1478.2,442.6 L1479.4,493.9 L1480.5,599.0 L1481.6,717.6 L1482.7,827.1 L1483.8,842.5 L1484.9,861.6 L1486.1,877.2 L1487.2,859.6 L1488.3,844.6 L1489.4,827.1 L1491.1,773.7 L1492.3,742.3 L1493.6,718.3 L1494.8,686.2 L1496.1,660.2 L1497.2,683.2 L1498.3,703.6 L1499.4,726.9 L1500.5,694.3 L1501.6,659.4 L1502.8,626.8 L1503.9,572.9 L1505.1,517.3 L1506.3,538.9 L1507.5,573.0 L1508.7,597.7 L1509.9,628.9 L1511.1,653.5 L1512.2,666.0 L1513.3,681.0 L1514.4,693.6 L1515.7,719.9 L1516.9,752.1 L1518.2,775.6 L1519.4,807.1 L1520.6,781.8 L1521.7,750.2 L1522.8,726.9 L1523.9,708.8 L1525.0,681.6 L1526.1,660.2 L1527.4,667.8 L1528.6,670.2 L1529.9,678.5 L1531.1,683.5 L1532.5,643.9 L1533.9,609.2 L1535.3,561.6 L1536.7,537.7 L1538.1,491.2 L1539.5,453.8 L1540.9,448.0 L1542.4,435.3 L1543.8,427.1 L1545.0,411.2 L1546.2,393.7 L1547.3,361.8 L1548.4,340.1 L1549.5,303.6 L1550.6,377.4 L1551.7,457.3 L1552.8,527.3 L1554.2,570.6 L1555.6,628.2 L1557.0,673.6 L1558.4,733.1 L1559.8,776.0 L1561.2,827.1 L1562.4,779.1 L1563.7,719.6 L1564.9,674.6 L1566.2,614.3 L1567.4,575.6 L1568.7,508.8 L1569.9,467.8 L1571.2,413.8 L1572.3,360.7 L1573.4,310.0 L1574.5,256.8 L1576.2,360.3 L1577.3,326.1 L1578.4,295.9 L1579.5,260.2 L1581.2,393.7 L1582.9,493.9 L1584.6,760.3 L1585.9,843.9 L1587.2,937.1 L1588.6,1020.9 L1589.9,1116.3 L1591.2,1200.4 L1592.6,1224.0 L1593.9,1251.7 L1595.2,1273.8 L1596.6,1303.3 L1597.9,1324.0 L1599.6,827.1 L1600.8,813.8 L1602.1,810.9 L1603.3,784.3 L1604.6,777.0 L1606.3,1200.4 L1607.5,1126.6 L1608.8,1046.2 L1610.0,977.7 L1611.3,893.9 L1612.4,957.8 L1613.5,1038.9 L1614.6,1110.3 L1615.7,1116.7 L1616.8,1138.3 L1617.9,1143.7 L1619.1,1068.3 L1620.2,1003.1 L1621.3,927.3 L1622.5,871.5 L1623.8,826.2 L1625.0,756.0 L1626.3,710.3 L1628.0,760.3 L1629.4,809.3 L1630.7,850.7 L1632.1,905.0 L1633.5,950.5 L1634.9,1000.1 L1636.3,1046.8 L1638.0,893.9 L1639.2,862.7 L1640.4,840.3 L1641.6,802.8 L1643.2,763.9 L1644.9,741.2 L1646.5,750.9 L1648.1,786.6 L1649.7,763.9 L1651.3,695.9 L1653.0,731.5 L1654.6,744.5 L1656.2,754.2 L1657.8,773.6 L1659.4,747.7 L1661.1,741.2 L1662.7,744.5 L1664.3,747.7 L1665.9,780.1 L1667.5,806.0 L1669.1,812.5 L1670.8,809.2 L1671.9,846.5 L1673.0,900.2 L1674.7,796.3 L1676.3,731.5 L1678.2,699.1 L1679.8,666.7 L1681.5,614.9 L1683.1,579.3 L1684.7,563.1 L1686.3,537.2 L1687.9,576.0 L1689.6,595.5 L1691.2,627.9 L1692.8,585.7 L1694.4,579.3 L1696.0,543.6 L1697.7,478.9 L1699.6,407.0 L1701.5,436.8 L1703.2,495.1 L1704.5,357.1 L1706.1,381.7 L1707.4,370.4 L1708.7,472.4 L1709.6,566.3 L1711.3,572.8 L1712.9,488.6 L1714.5,530.7 L1716.1,483.7 L1717.7,524.2 L1718.7,611.7 L1720.3,614.9 L1721.9,666.7 L1723.6,640.8 L1725.2,673.2 L1726.8,702.3 L1728.1,634.3 L1729.7,576.0 L1731.3,524.2 L1733.0,488.6 L1734.3,420.6 L1735.9,537.2 L1737.2,666.7 L1738.1,789.8 L1739.8,731.5 L1741.4,725.0 L1743.0,699.1 L1744.6,692.6 L1746.2,650.5 L1747.9,666.7 L1749.5,715.3 L1751.1,725.0 L1752.7,763.9 L1754.3,780.1 L1756.0,828.7 L1757.6,767.1 L1759.2,796.3 L1760.8,822.2 L1762.1,858.6 L1763.4,893.4 L1764.5,842.3 L1765.7,796.3 L1767.3,715.3 L1768.9,650.5 L1770.5,634.3 L1772.1,627.9 L1773.8,553.4 L1775.4,566.3 L1777.0,563.1 L1778.6,592.2 L1780.2,601.9 L1781.9,653.8 L1783.5,601.9 L1785.1,576.0 L1786.7,540.4 L1788.3,569.6 L1790.0,556.6 L1791.6,495.1 L1793.2,450.4 L1794.5,569.6 L1796.1,621.4 L1797.7,627.9 L1799.4,585.7 L1800.5,657.8 L1801.6,727.3 L1802.6,666.7 L1804.2,634.3 L1805.8,650.5 L1807.4,621.4 L1809.1,601.9 L1810.7,579.3 L1812.3,634.3 L1813.9,647.3 L1815.5,601.9 L1816.7,502.5 L1817.9,405.6 L1819.1,305.9 L1820.7,407.6 L1822.0,488.6 L1823.6,430.3 L1825.3,420.6 L1826.9,676.9 L1828.0,721.6 L1829.1,772.5 L1830.2,813.8 L1831.9,760.3 L1833.6,683.5 L1835.2,726.9 L1836.9,733.6 L1838.6,710.3 L1840.2,853.8 L1841.9,860.5 L1843.6,793.7 L1845.2,760.3 L1846.9,747.0 L1848.6,760.3 L1849.7,835.6 L1850.8,913.2 L1851.9,988.4 L1853.1,987.8 L1854.4,990.8 L1855.6,988.1 L1856.8,994.4 L1858.0,986.9 L1859.3,993.4 L1860.7,938.8 L1862.2,881.6 L1863.6,827.1 L1865.3,793.7 L1866.9,833.8 L1868.6,837.1 L1870.0,760.6 L1870.3,793.7 L1871.6,747.7 L1873.2,734.7 L1874.9,699.1 L1876.5,666.7 L1878.1,692.6 L1879.7,715.3 L1881.3,718.5 L1883.0,770.4 L1884.6,731.5 L1886.2,734.7 L1887.8,699.1 L1889.4,676.4 L1891.1,715.3 L1892.7,806.0 L1894.3,812.5 L1895.9,825.4 L1897.5,828.7 L1899.1,840.0 L1900.8,796.3 L1902.4,718.5 L1904.0,715.3 L1905.6,673.2 L1907.2,666.7 L1908.9,648.9 L1910.5,718.5 L1911.6,824.3 L1912.8,925.8 L1914.2,908.7 L1915.7,895.9 L1917.1,876.4 L1918.6,861.1 L1920.2,854.0 L1921.8,840.0 L1923.4,828.7 L1925.1,820.5 L1926.7,822.2 L1928.3,796.3 L1929.9,763.9 L1931.5,676.4 L1933.2,705.6 L1934.8,553.4 L1936.4,550.1 L1938.0,545.3 L1939.6,595.5 L1941.3,682.9 L1942.9,673.2 L1944.5,666.7 L1946.1,650.5 L1947.7,589.0 L1949.4,692.6 L1951.0,699.1 L1952.6,750.9 L1954.2,809.2 L1955.8,750.9 L1957.4,763.9 L1959.1,715.3 L1960.7,796.3 L1962.3,718.5 L1963.9,660.2 L1965.5,715.3 L1967.2,708.8 L1968.8,757.4 L1970.4,763.9 L1972.0,799.5 L1973.6,763.9 L1975.3,725.0 L1976.9,718.5 L1978.5,731.5 L1980.1,744.5 L1981.7,699.1 L1983.4,650.5 L1985.0,637.6 L1986.6,621.4 L1988.2,579.3 L1989.8,582.5 L1991.5,550.1 L1993.1,546.9 L1994.7,537.2 L1996.3,553.4 L1997.9,527.4 L1999.6,553.4 L2001.2,563.1 L2002.8,634.3 L2004.4,618.1 L2006.0,637.6 L2007.7,605.2 L2009.3,640.8 L2010.9,666.7 L2011.9,725.0 L2013.5,731.5 L2015.1,750.9 L2016.7,734.7 L2018.3,818.9 L2020.0,763.9 L2021.6,734.7 L2023.2,750.9 L2024.8,699.1 L2026.4,757.4 L2028.1,705.6 L2029.7,741.2 L2031.3,773.6 L2032.9,776.8 L2034.5,770.4 L2036.2,796.3 L2037.8,828.7 L2039.1,763.9 L2040.7,757.4 L2042.3,817.3 L2043.9,763.9 L2045.5,750.9 L2047.2,686.2 L2048.8,763.9 L2050.4,773.6 L2052.0,775.2 L2053.3,844.6 L2054.6,894.9 L2055.9,969.7 L2057.2,1031.7 L2058.6,995.8 L2060.1,969.5 L2061.5,924.7 L2062.9,897.5 L2064.3,861.1 L2065.7,852.3 L2067.0,846.9 L2068.4,837.6 L2069.7,836.0 L2071.1,822.5 L2072.4,815.7 L2073.6,826.5 L2074.7,828.7 L2076.0,832.2 L2077.3,840.0 L2078.9,787.7 L2080.5,718.5 L2082.1,731.5 L2083.8,780.1 L2085.4,763.9 L2087.0,789.8 L2088.6,763.9 L2090.2,744.5 L2091.9,750.9 L2093.5,780.1 L2095.1,796.3 L2096.7,840.0 L2098.1,805.8 L2099.6,789.2 L2101.0,750.9 L2102.1,789.0 L2103.2,828.7 L2105.2,809.2 L2107.1,663.5 L2108.7,666.7 L2110.7,702.3 L2112.3,673.2 L2113.6,618.1 L2115.5,558.2 L2116.8,608.4 L2118.5,692.6 L2120.1,621.4 L2121.7,608.4 L2123.3,679.7 L2124.9,634.3 L2126.6,686.2 L2127.9,626.2 L2129.1,682.9 L2130.8,631.1 L2132.4,634.3 L2134.0,572.8 L2135.6,666.7 L2137.2,736.4 L2138.9,699.1 L2140.5,679.7 L2142.1,611.7 L2143.7,608.4 L2145.3,569.6 L2147.0,611.7 L2148.6,644.0 L2150.2,624.6 L2151.8,663.5 L2153.4,624.6 L2155.1,715.3 L2156.7,721.8 L2157.7,601.9 L2158.9,529.1 L2160.6,585.7 L2162.2,621.4 L2163.8,634.3 L2165.7,663.5 L2167.4,634.3 L2169.0,579.3 L2170.6,621.4 L2172.2,587.4 L2173.8,666.7 L2175.5,621.4 L2177.1,608.4 L2178.7,595.5 L2180.3,614.9 L2181.9,650.5 L2183.6,650.5 L2185.2,679.7 L2186.8,786.6 L2188.4,757.4 L2190.0,715.3 L2191.7,725.0 L2193.3,731.5 L2194.6,721.8 L2196.2,807.6 L2197.8,780.1 L2199.4,734.7 L2201.1,780.1 L2202.7,738.0 L2204.3,699.1 L2205.9,631.1 L2207.5,631.1 L2209.1,647.3 L2210.1,757.4 L2211.7,708.8 L2213.4,666.7 L2215.0,621.4 L2216.0,585.7 L2217.6,621.4 L2219.2,660.2 L2220.8,676.4 L2221.8,721.8 L2223.1,715.3 L2224.7,673.2 L2226.3,763.9 L2227.9,767.1 L2229.6,778.5 L2231.2,731.5 L2232.8,692.6 L2234.4,747.7 L2236.0,731.5 L2237.7,750.9 L2239.3,725.0 L2240.9,708.8 L2242.5,731.5 L2244.1,747.7 L2245.7,692.6 L2247.4,676.4 L2249.0,699.1 L2250.6,721.8 L2252.2,721.8 L2253.8,699.1 L2255.5,721.8 L2257.1,725.0 L2258.7,738.0 L2260.3,744.5 L2261.9,721.8 L2263.6,705.6 L2265.2,721.8 L2266.8,699.1 L2268.4,686.2 L2270.0,689.4 L2271.7,650.5 L2273.3,618.1 L2274.9,627.9 L2276.5,653.8 L2278.1,627.9 L2279.8,627.9 L2281.4,660.2 L2283.0,660.2 L2284.6,569.6 L2286.2,563.1 L2287.9,496.7 L2289.5,537.2 L2291.1,576.0 L2292.7,666.7 L2294.3,853.8 L2296.0,760.3 L2297.7,693.6 L2298.8,706.5 L2299.9,713.5 L2301.0,726.9 L2302.1,694.6 L2303.2,658.3 L2304.3,626.8 L2305.5,621.2 L2306.6,611.4 L2307.7,606.7 L2309.3,660.2 L2310.5,553.0 L2311.6,442.8 L2312.7,336.3 L2314.4,420.4 L2316.0,447.1 L2317.7,473.9 L2319.4,437.1 L2320.5,422.8 L2321.7,405.4 L2322.7,437.0 L2323.7,470.5 L2324.9,483.5 L2326.0,493.9 L2327.2,455.7 L2328.4,427.1 L2330.1,443.8 L2331.7,490.6 L2332.7,509.0 L2333.7,520.6 L2334.9,522.2 L2336.1,527.3 L2337.7,537.3 L2339.4,626.8 L2340.5,674.4 L2341.6,714.6 L2342.7,760.3 L2344.4,820.4 L2346.1,837.1 L2347.7,793.7 L2349.0,786.2 L2350.3,776.3 L2351.5,769.6 L2352.8,760.3 L2353.9,731.1 L2355.0,713.5 L2356.1,680.2 L2357.2,690.2 L2358.3,713.2 L2359.4,726.9 L2360.5,684.6 L2361.7,661.8 L2362.8,626.8 L2363.9,604.4 L2365.0,594.7 L2366.1,576.7 L2367.4,558.5 L2368.8,557.9 L2370.1,534.0 L2371.5,521.9 L2372.8,507.2 L2373.9,486.7 L2375.0,473.7 L2376.1,453.8 L2377.3,444.3 L2378.5,437.1 L2379.5,438.7 L2380.5,438.8 L2381.6,465.1 L2382.8,493.9 L2384.5,527.3 L2384.5,606.7 L2385.8,554.2 L2387.1,498.9 L2388.3,516.8 L2389.5,537.3 L2390.6,542.9 L2391.7,533.7 L2392.8,535.6 L2394.5,560.7 L2394.5,593.4 L2395.7,576.0 L2397.0,543.4 L2398.2,533.1 L2399.5,507.2 L2400.9,498.0 L2402.4,496.6 L2403.8,484.9 L2404.9,509.0 L2406.1,542.1 L2407.2,566.1 L2408.4,575.1 L2409.6,591.3 L2410.7,599.0 L2411.9,613.9 L2413.1,652.6 L2414.3,685.5 L2415.5,682.5 L2416.7,699.9 L2417.9,693.9 L2419.1,704.6 L2420.3,632.8 L2421.5,551.7 L2422.7,579.8 L2423.9,618.6 L2425.1,630.8 L2426.3,637.7 L2427.5,660.5 L2428.7,685.5 L2429.9,698.4 L2431.1,709.4 L2432.2,720.0 L2433.4,738.1 L2434.6,738.5 L2435.8,724.0 L2437.0,720.9 L2438.2,714.2 L2439.7,659.2 L2441.1,678.1 L2442.5,710.0 L2444.0,731.2 L2445.4,757.3 L2446.6,800.6 L2447.9,840.5 L2449.1,889.1 L2450.4,926.0 L2451.6,969.9 L2452.7,912.9 L2453.8,850.5 L2454.9,795.5 L2456.4,685.5 L2458.3,807.5 L2459.5,735.3 L2460.7,661.6 L2462.1,747.8 L2463.3,771.0 L2464.5,797.9 L2465.5,685.5 L2466.9,648.1 L2468.3,594.7 L2469.5,612.7 L2470.7,637.7 L2472.6,628.2 L2473.8,662.9 L2475.0,695.1 L2476.2,677.2 L2477.4,666.4 L2478.7,661.1 L2479.9,649.6 L2481.2,642.5 L2482.4,641.0 L2483.6,637.7 L2484.8,640.6 L2486.0,656.8 L2487.2,672.1 L2488.4,685.5 L2489.3,408.4 L2490.5,381.4 L2491.7,355.9 L2492.9,383.0 L2494.1,398.9 L2495.3,375.4 L2496.5,355.9 L2497.7,329.6 L2498.9,300.9 L2500.1,324.1 L2501.3,351.1 L2502.5,436.5 L2503.7,513.5 L2504.9,548.6 L2506.1,585.2 L2507.5,508.7 L2508.6,510.3 L2509.7,501.7 L2510.8,504.0 L2512.3,542.2 L2513.5,538.0 L2514.7,523.1 L2515.9,548.4 L2517.0,575.6 L2518.2,561.6 L2519.4,542.2 L2520.6,560.4 L2521.8,580.4 L2523.0,563.6 L2524.2,542.2 L2525.4,584.4 L2526.6,628.2 L2528.0,716.6 L2529.9,661.6 L2531.1,661.8 L2532.3,652.1 L2533.5,614.7 L2534.7,590.0 L2535.9,543.2 L2537.1,494.4 L2538.3,441.0 L2539.5,389.3 L2540.7,414.4 L2541.9,422.8 L2543.1,407.1 L2544.3,398.9 L2545.5,421.4 L2546.7,432.3 L2548.1,346.3 L2549.3,393.3 L2550.5,441.9 L2551.7,482.2 L2552.9,508.7 L2554.1,455.8 L2555.3,408.4 L2556.5,404.7 L2557.7,398.9 L2558.8,387.9 L2560.0,379.8 L2561.2,377.1 L2562.4,365.4 L2563.6,394.0 L2564.8,432.3 L2566.0,464.2 L2567.2,494.4 L2568.4,489.2 L2569.6,489.6 L2571.0,685.5 L2572.9,666.4 L2574.1,663.6 L2575.3,659.2 L2576.5,694.8 L2577.7,747.6 L2578.9,722.8 L2580.1,695.1 L2581.3,683.1 L2582.5,685.5 L2583.7,625.0 L2584.9,556.5 L2586.1,504.9 L2587.3,458.6 L2588.5,489.3 L2589.7,518.3 L2590.9,492.4 L2592.1,470.5 L2593.2,507.1 L2594.4,542.2 L2595.9,446.6 L2597.3,207.8 L2598.5,202.7 L2599.7,199.2 L2599.7,686.6 Z" fill="#ec6864" fill-opacity="0.16" stroke="none"/>
<line x1="14.25" y1="686.6" x2="2600" y2="686.6" stroke="#f19c99" stroke-width="1.5"/>
<line x1="14" y1="279.6" x2="2600" y2="279.6" stroke="#8a91ad" stroke-width="3.2"/>
<path d="M15.0,1006.3 L16.6,987.3 L18.2,969.8 L19.6,939.3 L20.9,892.4 L22.3,860.5 L23.5,918.1 L24.7,972.1 L25.9,1032.1 L27.1,1084.1 L28.3,1143.9 L28.4,1147.0 L29.7,1135.2 L31.1,1112.8 L32.4,1096.9 L32.4,1095.3 L33.7,998.4 L35.0,894.3 L36.3,803.8 L37.7,704.7 L38.7,749.7 L39.7,803.8 L41.0,685.5 L42.4,564.2 L43.7,450.5 L45.1,326.6 L46.4,208.4 L47.4,334.0 L48.4,443.8 L49.7,393.8 L51.1,357.7 L52.3,379.2 L53.5,398.4 L54.8,422.0 L56.0,432.9 L57.2,462.7 L58.4,482.2 L59.8,519.2 L61.2,559.3 L62.5,595.0 L63.9,634.4 L65.2,669.9 L66.6,711.0 L68.0,746.2 L69.3,785.7 L70.7,821.9 L72.1,860.5 L73.5,825.7 L74.9,787.7 L76.2,811.0 L77.6,837.0 L78.9,860.5 L80.0,905.4 L81.0,961.7 L82.0,990.3 L83.0,1014.4 L84.3,965.5 L85.7,923.4 L87.0,876.7 L88.5,849.4 L89.9,840.3 L91.4,864.0 L92.8,874.6 L94.3,892.9 L95.5,953.7 L96.8,1008.4 L98.0,1075.9 L99.2,1131.8 L99.5,1132.0 L101.2,1075.1 L102.4,1020.8 L103.6,983.4 L104.9,929.8 L106.1,888.9 L107.4,947.5 L108.8,998.5 L110.1,1054.9 L111.3,992.6 L112.6,925.3 L114.0,914.7 L115.4,917.2 L116.8,850.2 L118.2,771.5 L119.6,728.6 L121.1,689.5 L122.7,679.8 L124.3,621.5 L125.9,537.3 L127.5,451.5 L129.1,540.5 L130.8,495.2 L132.4,537.3 L133.7,370.5 L134.7,582.6 L136.3,495.2 L137.9,579.4 L139.5,530.8 L141.1,598.8 L143.1,589.1 L144.2,531.7 L145.3,469.3 L146.6,422.4 L147.9,377.0 L149.6,491.9 L151.2,589.1 L152.8,653.9 L154.4,730.0 L155.1,807.9 L156.5,762.2 L157.9,714.8 L159.2,748.9 L160.6,794.4 L161.9,832.2 L163.2,815.2 L164.4,802.0 L165.6,779.9 L166.8,767.4 L168.1,813.3 L169.4,851.2 L170.7,896.4 L172.1,937.4 L173.1,915.3 L174.1,897.0 L175.7,936.1 L177.3,965.8 L178.6,978.4 L180.0,946.0 L181.4,918.7 L182.8,885.2 L184.2,856.5 L185.8,779.6 L187.1,798.8 L188.4,815.8 L189.6,838.7 L190.9,844.6 L192.1,874.5 L193.4,889.2 L194.7,908.9 L195.8,893.0 L197.0,875.5 L198.7,988.4 L200.1,957.5 L201.4,939.0 L202.8,896.4 L204.2,874.1 L205.6,836.7 L207.0,813.8 L208.4,847.6 L209.8,877.9 L211.2,920.9 L212.6,943.4 L214.0,980.3 L215.4,1011.8 L216.6,979.0 L217.9,950.1 L219.2,907.9 L220.5,885.0 L221.8,847.5 L223.0,820.4 L224.0,825.2 L225.0,819.0 L226.9,807.6 L228.8,773.3 L229.9,760.0 L231.5,811.4 L233.4,876.1 L235.3,834.2 L237.2,841.8 L239.1,819.0 L241.0,716.3 L242.9,598.3 L244.8,643.9 L246.7,693.4 L248.6,659.2 L250.5,670.6 L252.4,583.1 L254.3,659.2 L256.2,670.6 L258.1,682.0 L260.0,712.4 L261.9,758.1 L263.8,792.4 L265.7,773.3 L267.6,822.8 L269.5,811.4 L271.4,887.5 L273.3,925.6 L275.2,940.8 L277.1,971.2 L278.3,997.9 L280.2,963.6 L282.1,887.5 L283.2,815.2 L284.7,868.5 L286.7,944.6 L288.6,887.5 L290.5,898.9 L292.4,849.4 L294.3,822.8 L295.8,769.5 L297.3,697.2 L299.2,704.8 L300.7,739.1 L302.6,602.1 L304.5,613.5 L306.4,571.6 L307.6,761.9 L309.5,769.5 L311.0,826.6 L312.5,780.9 L314.4,792.4 L316.3,838.0 L318.2,727.7 L320.1,720.1 L322.0,811.4 L323.9,773.3 L325.8,716.3 L327.8,613.5 L329.7,609.7 L331.6,605.9 L332.7,697.2 L334.6,708.6 L336.5,583.1 L338.4,621.1 L340.3,643.9 L342.2,670.6 L344.1,708.6 L346.0,670.6 L347.9,666.8 L349.8,678.2 L351.7,655.4 L353.6,689.6 L354.8,841.8 L356.3,773.3 L358.2,815.2 L360.1,746.7 L362.0,758.1 L363.9,792.4 L365.8,754.3 L367.7,769.5 L369.6,758.1 L371.5,754.3 L373.4,758.1 L375.3,750.5 L377.2,807.6 L379.1,780.9 L381.0,758.1 L382.9,742.9 L384.8,712.4 L386.7,663.0 L388.6,609.7 L390.5,655.4 L392.4,704.8 L394.3,708.6 L396.3,742.9 L398.2,811.4 L399.4,851.0 L400.7,903.9 L401.8,888.1 L402.9,858.6 L404.0,843.8 L405.3,952.3 L406.7,1056.8 L408.1,1068.8 L409.5,1086.6 L410.9,1098.7 L412.4,1113.6 L413.6,1058.8 L414.9,988.9 L416.2,930.8 L417.5,867.0 L418.8,809.3 L420.1,745.3 L421.4,685.2 L422.5,726.9 L423.6,764.4 L424.7,807.1 L426.0,846.0 L427.4,876.7 L428.7,917.1 L430.1,951.0 L431.4,988.7 L432.7,1023.2 L434.1,1060.2 L435.2,1063.7 L436.3,1056.2 L437.4,1063.5 L438.8,996.4 L440.2,914.0 L441.6,852.2 L443.0,773.7 L444.4,708.2 L445.7,630.1 L447.4,700.2 L448.5,665.7 L449.6,638.7 L450.8,606.7 L452.1,680.6 L453.4,756.6 L454.8,830.5 L456.2,725.0 L457.7,629.2 L459.1,527.3 L460.8,537.3 L461.9,497.3 L463.1,458.8 L464.8,493.9 L466.0,426.0 L467.2,351.4 L468.4,281.9 L469.4,397.1 L470.8,352.0 L472.1,464.4 L473.5,574.5 L474.8,686.9 L475.9,721.2 L477.0,750.6 L478.1,783.7 L479.5,769.6 L480.8,753.7 L481.9,763.2 L483.0,781.9 L484.1,793.7 L485.4,784.3 L486.6,778.7 L487.9,767.9 L489.1,760.3 L490.4,738.9 L491.7,714.9 L492.8,710.1 L494.0,708.9 L495.1,704.7 L496.5,699.9 L497.8,703.5 L499.2,690.6 L500.5,689.2 L501.9,684.3 L503.6,657.1 L504.7,656.7 L505.9,667.0 L507.0,663.9 L508.7,697.9 L510.4,538.1 L511.4,334.0 L513.1,325.5 L514.8,521.1 L516.5,517.7 L517.7,562.8 L518.9,609.5 L520.6,572.1 L522.3,551.7 L524.0,436.0 L525.7,470.0 L526.7,368.0 L528.1,470.0 L529.8,408.8 L531.5,636.7 L533.2,592.5 L534.9,629.9 L536.6,602.7 L538.3,565.3 L540.0,558.5 L541.7,645.2 L543.4,483.6 L545.1,417.3 L546.8,497.2 L548.5,449.6 L550.2,510.8 L551.9,538.1 L553.6,551.7 L555.3,521.1 L557.0,544.9 L558.7,442.8 L560.4,541.5 L562.1,544.9 L563.8,589.1 L565.5,565.3 L567.2,551.7 L568.9,606.1 L570.6,578.9 L572.3,555.1 L574.0,589.1 L575.7,626.5 L577.4,650.3 L579.1,640.1 L580.1,402.0 L581.0,285.0 L582.6,277.9 L583.4,300.0 L585.1,243.5 L586.3,300.0 L587.2,329.9 L588.6,395.2 L590.3,415.6 L592.0,572.1 L593.7,538.1 L595.4,524.5 L597.1,606.1 L598.8,565.3 L600.5,616.3 L602.2,582.3 L603.9,674.1 L604.6,679.9 L605.8,708.0 L607.0,733.8 L608.2,765.9 L609.4,789.4 L610.4,771.6 L611.4,755.4 L612.6,790.7 L613.8,815.2 L615.0,850.2 L616.2,743.1 L617.9,770.0 L619.6,670.3 L620.6,695.6 L621.6,716.6 L622.8,718.6 L624.0,730.9 L625.2,725.1 L626.4,713.2 L627.6,711.5 L629.4,463.2 L631.1,555.1 L632.8,504.0 L634.5,344.2 L636.2,487.0 L637.9,633.3 L639.6,510.8 L641.3,572.1 L643.0,616.3 L644.7,629.9 L646.4,446.2 L648.1,368.0 L649.8,323.8 L650.9,266.0 L652.2,266.0 L653.2,351.0 L654.9,470.0 L656.6,412.2 L658.3,453.0 L660.0,538.1 L661.7,612.9 L663.4,442.8 L665.1,514.2 L666.8,470.0 L668.0,450.4 L669.1,426.1 L670.2,405.4 L671.9,470.0 L673.6,521.1 L675.3,497.2 L677.0,524.5 L678.7,558.5 L680.4,538.1 L682.1,565.3 L683.8,538.1 L685.5,524.5 L687.2,572.1 L688.6,583.6 L690.0,589.1 L690.7,621.1 L691.9,822.8 L693.4,735.3 L694.5,624.9 L696.4,731.5 L698.3,773.3 L700.2,742.9 L702.1,792.4 L704.0,803.8 L705.9,739.1 L707.8,811.4 L709.7,921.8 L711.6,887.5 L712.8,941.1 L713.9,999.7 L715.1,1051.2 L716.2,1107.1 L717.3,1000.2 L718.5,887.5 L720.0,811.4 L721.9,800.0 L723.8,834.2 L725.7,895.1 L727.6,830.4 L729.5,796.2 L731.4,853.3 L733.3,811.4 L735.2,704.8 L737.1,678.2 L739.0,723.9 L740.9,727.7 L742.8,678.2 L744.7,727.7 L746.7,739.1 L747.8,811.4 L749.7,773.3 L750.8,716.3 L752.7,773.3 L754.6,887.5 L756.5,876.1 L758.4,910.3 L760.4,830.4 L762.3,876.1 L764.2,838.0 L766.1,830.4 L768.0,849.4 L769.9,819.0 L771.8,815.2 L773.7,944.6 L775.6,898.9 L777.5,849.4 L779.4,815.2 L781.3,849.4 L783.2,845.6 L785.1,777.1 L787.0,712.4 L788.9,704.8 L790.8,735.3 L792.7,697.2 L794.6,689.6 L796.5,640.1 L798.4,594.5 L799.9,567.8 L801.8,621.1 L803.7,659.2 L805.6,666.8 L806.8,956.0 L808.7,876.1 L810.6,872.3 L812.5,906.5 L814.4,868.5 L816.3,857.1 L818.2,838.0 L820.1,826.6 L822.0,819.0 L823.9,849.4 L825.8,773.3 L827.3,727.7 L828.9,780.9 L830.8,788.6 L832.7,746.7 L834.6,811.4 L836.5,758.1 L838.4,773.3 L840.3,758.1 L842.2,723.9 L844.1,830.4 L845.6,773.3 L846.7,697.2 L847.9,632.5 L849.8,567.8 L851.7,621.1 L853.6,583.1 L855.5,624.9 L857.4,624.9 L859.3,613.5 L861.2,567.8 L862.2,544.7 L863.2,523.2 L864.9,615.5 L866.5,583.1 L868.1,544.2 L869.7,589.6 L871.3,605.7 L873.0,628.4 L874.6,690.0 L876.2,654.3 L877.8,652.7 L879.4,719.1 L881.1,745.0 L882.4,799.4 L883.8,843.3 L885.2,911.6 L886.6,958.5 L887.9,908.2 L889.1,860.0 L890.8,819.5 L892.4,770.9 L894.0,783.9 L895.6,783.9 L897.2,816.3 L898.9,829.2 L900.5,803.3 L902.1,783.9 L903.7,774.2 L905.3,783.9 L907.0,790.4 L908.6,816.3 L910.2,783.9 L911.8,764.5 L913.4,767.7 L915.1,783.9 L916.2,867.6 L917.3,939.0 L918.9,806.6 L920.6,806.6 L922.2,738.5 L923.8,758.0 L925.4,770.9 L927.0,767.7 L928.7,780.6 L930.0,751.5 L931.6,686.7 L932.9,651.1 L934.5,712.6 L936.1,699.7 L937.7,754.7 L939.4,670.5 L941.0,641.4 L942.6,570.1 L944.2,563.6 L945.8,615.5 L946.8,626.8 L948.5,523.9 L948.5,566.7 L950.2,483.9 L951.3,444.5 L952.4,414.9 L953.5,368.7 L955.2,453.8 L956.8,388.7 L958.5,493.9 L959.6,505.2 L960.7,526.4 L961.9,540.6 L963.0,574.0 L964.1,609.9 L965.2,643.5 L966.4,645.3 L967.5,660.2 L968.5,627.5 L969.5,593.4 L970.2,527.3 L971.6,483.5 L973.1,458.8 L974.5,412.1 L975.7,434.0 L976.9,460.5 L978.5,420.4 L980.2,493.9 L981.4,478.8 L982.6,462.2 L983.9,465.0 L985.2,480.5 L986.9,490.6 L988.3,483.0 L989.8,454.6 L991.2,442.1 L992.9,510.6 L994.2,468.8 L995.6,538.0 L996.9,603.4 L998.6,656.8 L1000.3,723.6 L1001.9,660.2 L1003.6,626.8 L1005.3,567.3 L1005.3,570.0 L1006.9,693.6 L1008.6,877.2 L1010.3,883.9 L1011.9,910.6 L1013.1,917.7 L1014.3,927.3 L1015.6,890.0 L1016.9,850.5 L1018.6,860.5 L1019.8,828.0 L1021.0,797.1 L1022.0,835.5 L1023.0,867.2 L1024.2,944.4 L1025.5,1025.3 L1026.8,1102.4 L1028.0,1185.1 L1029.3,1260.5 L1030.6,1187.8 L1032.0,1116.9 L1033.3,1075.5 L1034.6,1029.4 L1036.0,993.5 L1037.3,936.9 L1038.6,900.6 L1040.3,897.2 L1042.0,966.7 L1043.2,924.2 L1044.5,879.4 L1045.7,838.0 L1047.0,793.7 L1048.7,767.0 L1050.3,726.9 L1052.0,693.6 L1053.1,665.7 L1054.2,660.5 L1055.3,636.8 L1057.0,616.8 L1058.1,611.2 L1059.2,608.7 L1060.4,603.4 L1062.0,586.7 L1063.7,415.4 L1064.9,422.9 L1066.0,437.1 L1067.5,507.2 L1068.9,558.2 L1070.4,630.1 L1072.0,600.1 L1073.7,693.6 L1075.4,606.7 L1077.0,571.7 L1078.2,613.4 L1079.3,646.3 L1080.4,693.6 L1082.1,660.2 L1083.7,620.1 L1085.4,596.7 L1087.1,610.1 L1088.2,608.0 L1089.3,597.2 L1090.4,593.4 L1091.1,505.6 L1092.1,580.0 L1093.2,576.9 L1094.3,555.1 L1095.4,544.0 L1095.4,586.7 L1097.1,603.4 L1098.7,633.5 L1100.4,670.2 L1102.1,620.1 L1103.8,616.8 L1104.9,674.2 L1106.0,722.9 L1107.1,777.0 L1108.8,733.6 L1110.4,720.3 L1111.5,703.3 L1112.7,677.5 L1113.8,666.8 L1114.9,664.3 L1116.0,655.7 L1117.1,656.8 L1118.8,700.2 L1119.9,705.0 L1121.0,698.9 L1122.1,706.9 L1123.8,753.7 L1125.5,726.9 L1127.1,683.5 L1128.8,660.2 L1130.5,610.1 L1131.6,601.8 L1132.7,590.1 L1133.8,581.7 L1135.5,626.8 L1137.1,660.2 L1138.8,626.8 L1139.9,634.4 L1141.0,633.8 L1142.2,646.8 L1143.3,659.5 L1144.4,658.7 L1145.5,676.9 L1147.2,740.3 L1148.8,720.3 L1150.5,686.9 L1152.2,726.9 L1153.3,729.2 L1154.4,717.3 L1155.5,713.6 L1157.2,753.7 L1158.8,737.0 L1160.5,706.9 L1162.2,726.9 L1163.9,716.9 L1165.5,740.3 L1166.6,754.7 L1167.8,764.0 L1168.9,777.0 L1170.5,753.7 L1172.2,740.3 L1173.3,746.6 L1174.4,750.7 L1175.5,757.0 L1177.2,723.6 L1178.3,706.5 L1179.4,672.0 L1180.6,653.5 L1182.2,630.1 L1183.3,641.3 L1184.4,640.2 L1185.6,646.8 L1186.8,659.6 L1188.1,662.0 L1189.3,678.1 L1190.6,686.9 L1191.7,695.7 L1192.8,710.0 L1193.9,720.3 L1195.0,711.7 L1196.1,705.6 L1197.2,696.9 L1198.4,666.8 L1199.5,652.4 L1200.6,626.8 L1201.7,601.5 L1202.8,592.7 L1203.9,573.4 L1205.0,532.6 L1206.1,498.6 L1207.3,453.8 L1208.9,440.5 L1210.1,448.3 L1211.3,467.2 L1212.6,427.9 L1213.9,387.0 L1215.1,440.5 L1216.3,500.6 L1217.3,514.7 L1218.3,527.3 L1219.9,500.6 L1221.4,514.8 L1222.8,537.3 L1224.2,544.9 L1225.6,560.7 L1225.6,593.4 L1227.3,653.5 L1229.0,610.1 L1230.2,601.8 L1231.5,582.8 L1232.7,583.9 L1234.0,573.4 L1234.6,435.5 L1236.1,498.5 L1237.5,563.8 L1239.0,626.8 L1240.1,635.9 L1241.2,651.1 L1242.3,656.8 L1244.0,630.1 L1245.7,710.3 L1247.3,767.0 L1248.4,719.5 L1249.6,680.7 L1250.7,626.8 L1251.8,651.2 L1252.9,686.5 L1254.0,703.6 L1255.3,822.5 L1256.7,955.7 L1256.7,955.0 L1257.8,925.4 L1259.0,893.9 L1260.7,860.5 L1261.8,851.8 L1262.9,846.6 L1264.0,837.1 L1265.1,828.6 L1266.2,824.7 L1267.4,813.8 L1269.0,777.0 L1270.1,789.6 L1271.3,804.5 L1272.4,817.1 L1273.5,796.0 L1274.6,793.6 L1275.7,780.4 L1277.4,767.0 L1279.0,877.2 L1280.7,843.8 L1281.8,812.3 L1282.9,787.5 L1284.1,757.0 L1285.3,750.1 L1286.6,746.1 L1287.8,732.2 L1289.1,733.6 L1290.3,732.1 L1291.6,705.1 L1292.8,704.3 L1294.1,693.6 L1295.3,686.0 L1296.6,683.0 L1297.8,664.8 L1299.1,666.8 L1300.2,655.6 L1301.3,636.6 L1302.4,626.8 L1303.5,613.3 L1304.6,592.5 L1305.8,576.7 L1306.9,593.3 L1308.0,604.6 L1309.1,620.1 L1310.2,628.8 L1311.3,634.9 L1312.4,643.5 L1314.1,693.6 L1315.2,683.4 L1316.3,662.5 L1317.4,660.2 L1319.1,540.6 L1320.5,515.4 L1321.8,484.1 L1323.1,460.5 L1324.5,505.3 L1325.8,544.0 L1327.2,561.1 L1328.6,595.1 L1330.0,617.8 L1331.4,644.7 L1332.7,667.6 L1334.1,693.6 L1335.5,649.1 L1336.8,586.1 L1338.1,543.5 L1339.5,492.2 L1340.7,524.8 L1341.8,561.6 L1343.0,590.7 L1344.2,626.8 L1345.6,583.4 L1347.1,534.0 L1348.5,488.9 L1349.7,442.1 L1350.8,393.7 L1350.8,593.4 L1352.0,476.0 L1353.2,360.3 L1354.8,420.4 L1356.2,362.8 L1357.5,303.6 L1357.5,633.5 L1358.7,443.0 L1359.8,256.8 L1361.5,326.9 L1363.2,286.9 L1364.9,360.3 L1365.9,541.1 L1366.9,720.3 L1368.2,698.4 L1369.5,680.9 L1370.9,656.8 L1371.5,440.5 L1372.9,466.2 L1374.2,493.9 L1375.9,463.8 L1375.9,653.5 L1377.0,642.9 L1378.1,620.6 L1379.2,606.7 L1380.5,659.7 L1381.7,699.5 L1383.0,748.8 L1384.2,793.7 L1385.5,747.0 L1386.7,711.0 L1388.0,660.5 L1389.2,626.8 L1390.3,549.9 L1391.5,466.7 L1392.6,393.7 L1393.7,345.8 L1394.8,274.7 L1395.9,223.4 L1397.6,326.9 L1397.6,606.7 L1399.2,393.7 L1400.4,417.0 L1401.5,437.5 L1402.6,460.5 L1402.6,610.1 L1404.3,263.5 L1405.9,360.3 L1407.6,460.5 L1409.3,493.9 L1410.6,504.1 L1411.9,510.6 L1413.1,444.8 L1414.3,393.7 L1415.9,190.1 L1417.6,326.9 L1419.3,185.0 L1421.0,293.6 L1422.6,320.3 L1424.3,337.0 L1426.0,747.0 L1427.2,724.6 L1428.5,693.4 L1429.7,677.6 L1431.0,653.5 L1432.3,679.7 L1433.6,721.0 L1435.0,752.6 L1436.3,794.1 L1437.6,820.4 L1438.9,793.6 L1440.2,784.1 L1441.4,749.5 L1442.7,733.6 L1444.3,773.7 L1446.0,893.9 L1447.7,827.1 L1448.9,833.9 L1450.2,828.6 L1451.4,835.4 L1452.7,837.1 L1454.3,793.7 L1455.5,747.8 L1456.6,705.5 L1457.7,660.2 L1458.9,596.3 L1460.1,543.5 L1461.3,479.4 L1462.5,421.1 L1463.7,360.3 L1465.4,393.7 L1466.5,318.6 L1467.7,260.2 L1469.4,178.4 L1471.0,310.3 L1472.4,277.9 L1473.7,235.1 L1475.0,393.7 L1476.0,388.2 L1477.0,387.0 L1478.2,442.6 L1479.4,493.9 L1480.5,599.0 L1481.6,717.6 L1482.7,827.1 L1483.8,842.5 L1484.9,861.6 L1486.1,877.2 L1487.2,859.6 L1488.3,844.6 L1489.4,827.1 L1491.1,773.7 L1492.3,742.3 L1493.6,718.3 L1494.8,686.2 L1496.1,660.2 L1497.2,683.2 L1498.3,703.6 L1499.4,726.9 L1500.5,694.3 L1501.6,659.4 L1502.8,626.8 L1503.9,572.9 L1505.1,517.3 L1506.3,538.9 L1507.5,573.0 L1508.7,597.7 L1509.9,628.9 L1511.1,653.5 L1512.2,666.0 L1513.3,681.0 L1514.4,693.6 L1515.7,719.9 L1516.9,752.1 L1518.2,775.6 L1519.4,807.1 L1520.6,781.8 L1521.7,750.2 L1522.8,726.9 L1523.9,708.8 L1525.0,681.6 L1526.1,660.2 L1527.4,667.8 L1528.6,670.2 L1529.9,678.5 L1531.1,683.5 L1532.5,643.9 L1533.9,609.2 L1535.3,561.6 L1536.7,537.7 L1538.1,491.2 L1539.5,453.8 L1540.9,448.0 L1542.4,435.3 L1543.8,427.1 L1545.0,411.2 L1546.2,393.7 L1547.3,361.8 L1548.4,340.1 L1549.5,303.6 L1550.6,377.4 L1551.7,457.3 L1552.8,527.3 L1554.2,570.6 L1555.6,628.2 L1557.0,673.6 L1558.4,733.1 L1559.8,776.0 L1561.2,827.1 L1562.4,779.1 L1563.7,719.6 L1564.9,674.6 L1566.2,614.3 L1567.4,575.6 L1568.7,508.8 L1569.9,467.8 L1571.2,413.8 L1572.3,360.7 L1573.4,310.0 L1574.5,256.8 L1576.2,360.3 L1577.3,326.1 L1578.4,295.9 L1579.5,260.2 L1581.2,393.7 L1582.9,493.9 L1584.6,760.3 L1585.9,843.9 L1587.2,937.1 L1588.6,1020.9 L1589.9,1116.3 L1591.2,1200.4 L1592.6,1224.0 L1593.9,1251.7 L1595.2,1273.8 L1596.6,1303.3 L1597.9,1324.0 L1599.6,827.1 L1600.8,813.8 L1602.1,810.9 L1603.3,784.3 L1604.6,777.0 L1606.3,1200.4 L1607.5,1126.6 L1608.8,1046.2 L1610.0,977.7 L1611.3,893.9 L1612.4,957.8 L1613.5,1038.9 L1614.6,1110.3 L1615.7,1116.7 L1616.8,1138.3 L1617.9,1143.7 L1619.1,1068.3 L1620.2,1003.1 L1621.3,927.3 L1622.5,871.5 L1623.8,826.2 L1625.0,756.0 L1626.3,710.3 L1628.0,760.3 L1629.4,809.3 L1630.7,850.7 L1632.1,905.0 L1633.5,950.5 L1634.9,1000.1 L1636.3,1046.8 L1638.0,893.9 L1639.2,862.7 L1640.4,840.3 L1641.6,802.8 L1643.2,763.9 L1644.9,741.2 L1646.5,750.9 L1648.1,786.6 L1649.7,763.9 L1651.3,695.9 L1653.0,731.5 L1654.6,744.5 L1656.2,754.2 L1657.8,773.6 L1659.4,747.7 L1661.1,741.2 L1662.7,744.5 L1664.3,747.7 L1665.9,780.1 L1667.5,806.0 L1669.1,812.5 L1670.8,809.2 L1671.9,846.5 L1673.0,900.2 L1674.7,796.3 L1676.3,731.5 L1678.2,699.1 L1679.8,666.7 L1681.5,614.9 L1683.1,579.3 L1684.7,563.1 L1686.3,537.2 L1687.9,576.0 L1689.6,595.5 L1691.2,627.9 L1692.8,585.7 L1694.4,579.3 L1696.0,543.6 L1697.7,478.9 L1699.6,407.0 L1701.5,436.8 L1703.2,495.1 L1704.5,357.1 L1706.1,381.7 L1707.4,370.4 L1708.7,472.4 L1709.6,566.3 L1711.3,572.8 L1712.9,488.6 L1714.5,530.7 L1716.1,483.7 L1717.7,524.2 L1718.7,611.7 L1720.3,614.9 L1721.9,666.7 L1723.6,640.8 L1725.2,673.2 L1726.8,702.3 L1728.1,634.3 L1729.7,576.0 L1731.3,524.2 L1733.0,488.6 L1734.3,420.6 L1735.9,537.2 L1737.2,666.7 L1738.1,789.8 L1739.8,731.5 L1741.4,725.0 L1743.0,699.1 L1744.6,692.6 L1746.2,650.5 L1747.9,666.7 L1749.5,715.3 L1751.1,725.0 L1752.7,763.9 L1754.3,780.1 L1756.0,828.7 L1757.6,767.1 L1759.2,796.3 L1760.8,822.2 L1762.1,858.6 L1763.4,893.4 L1764.5,842.3 L1765.7,796.3 L1767.3,715.3 L1768.9,650.5 L1770.5,634.3 L1772.1,627.9 L1773.8,553.4 L1775.4,566.3 L1777.0,563.1 L1778.6,592.2 L1780.2,601.9 L1781.9,653.8 L1783.5,601.9 L1785.1,576.0 L1786.7,540.4 L1788.3,569.6 L1790.0,556.6 L1791.6,495.1 L1793.2,450.4 L1794.5,569.6 L1796.1,621.4 L1797.7,627.9 L1799.4,585.7 L1800.5,657.8 L1801.6,727.3 L1802.6,666.7 L1804.2,634.3 L1805.8,650.5 L1807.4,621.4 L1809.1,601.9 L1810.7,579.3 L1812.3,634.3 L1813.9,647.3 L1815.5,601.9 L1816.7,502.5 L1817.9,405.6 L1819.1,305.9 L1820.7,407.6 L1822.0,488.6 L1823.6,430.3 L1825.3,420.6 L1826.9,676.9 L1828.0,721.6 L1829.1,772.5 L1830.2,813.8 L1831.9,760.3 L1833.6,683.5 L1835.2,726.9 L1836.9,733.6 L1838.6,710.3 L1840.2,853.8 L1841.9,860.5 L1843.6,793.7 L1845.2,760.3 L1846.9,747.0 L1848.6,760.3 L1849.7,835.6 L1850.8,913.2 L1851.9,988.4 L1853.1,987.8 L1854.4,990.8 L1855.6,988.1 L1856.8,994.4 L1858.0,986.9 L1859.3,993.4 L1860.7,938.8 L1862.2,881.6 L1863.6,827.1 L1865.3,793.7 L1866.9,833.8 L1868.6,837.1 L1870.0,760.6 L1870.3,793.7 L1871.6,747.7 L1873.2,734.7 L1874.9,699.1 L1876.5,666.7 L1878.1,692.6 L1879.7,715.3 L1881.3,718.5 L1883.0,770.4 L1884.6,731.5 L1886.2,734.7 L1887.8,699.1 L1889.4,676.4 L1891.1,715.3 L1892.7,806.0 L1894.3,812.5 L1895.9,825.4 L1897.5,828.7 L1899.1,840.0 L1900.8,796.3 L1902.4,718.5 L1904.0,715.3 L1905.6,673.2 L1907.2,666.7 L1908.9,648.9 L1910.5,718.5 L1911.6,824.3 L1912.8,925.8 L1914.2,908.7 L1915.7,895.9 L1917.1,876.4 L1918.6,861.1 L1920.2,854.0 L1921.8,840.0 L1923.4,828.7 L1925.1,820.5 L1926.7,822.2 L1928.3,796.3 L1929.9,763.9 L1931.5,676.4 L1933.2,705.6 L1934.8,553.4 L1936.4,550.1 L1938.0,545.3 L1939.6,595.5 L1941.3,682.9 L1942.9,673.2 L1944.5,666.7 L1946.1,650.5 L1947.7,589.0 L1949.4,692.6 L1951.0,699.1 L1952.6,750.9 L1954.2,809.2 L1955.8,750.9 L1957.4,763.9 L1959.1,715.3 L1960.7,796.3 L1962.3,718.5 L1963.9,660.2 L1965.5,715.3 L1967.2,708.8 L1968.8,757.4 L1970.4,763.9 L1972.0,799.5 L1973.6,763.9 L1975.3,725.0 L1976.9,718.5 L1978.5,731.5 L1980.1,744.5 L1981.7,699.1 L1983.4,650.5 L1985.0,637.6 L1986.6,621.4 L1988.2,579.3 L1989.8,582.5 L1991.5,550.1 L1993.1,546.9 L1994.7,537.2 L1996.3,553.4 L1997.9,527.4 L1999.6,553.4 L2001.2,563.1 L2002.8,634.3 L2004.4,618.1 L2006.0,637.6 L2007.7,605.2 L2009.3,640.8 L2010.9,666.7 L2011.9,725.0 L2013.5,731.5 L2015.1,750.9 L2016.7,734.7 L2018.3,818.9 L2020.0,763.9 L2021.6,734.7 L2023.2,750.9 L2024.8,699.1 L2026.4,757.4 L2028.1,705.6 L2029.7,741.2 L2031.3,773.6 L2032.9,776.8 L2034.5,770.4 L2036.2,796.3 L2037.8,828.7 L2039.1,763.9 L2040.7,757.4 L2042.3,817.3 L2043.9,763.9 L2045.5,750.9 L2047.2,686.2 L2048.8,763.9 L2050.4,773.6 L2052.0,775.2 L2053.3,844.6 L2054.6,894.9 L2055.9,969.7 L2057.2,1031.7 L2058.6,995.8 L2060.1,969.5 L2061.5,924.7 L2062.9,897.5 L2064.3,861.1 L2065.7,852.3 L2067.0,846.9 L2068.4,837.6 L2069.7,836.0 L2071.1,822.5 L2072.4,815.7 L2073.6,826.5 L2074.7,828.7 L2076.0,832.2 L2077.3,840.0 L2078.9,787.7 L2080.5,718.5 L2082.1,731.5 L2083.8,780.1 L2085.4,763.9 L2087.0,789.8 L2088.6,763.9 L2090.2,744.5 L2091.9,750.9 L2093.5,780.1 L2095.1,796.3 L2096.7,840.0 L2098.1,805.8 L2099.6,789.2 L2101.0,750.9 L2102.1,789.0 L2103.2,828.7 L2105.2,809.2 L2107.1,663.5 L2108.7,666.7 L2110.7,702.3 L2112.3,673.2 L2113.6,618.1 L2115.5,558.2 L2116.8,608.4 L2118.5,692.6 L2120.1,621.4 L2121.7,608.4 L2123.3,679.7 L2124.9,634.3 L2126.6,686.2 L2127.9,626.2 L2129.1,682.9 L2130.8,631.1 L2132.4,634.3 L2134.0,572.8 L2135.6,666.7 L2137.2,736.4 L2138.9,699.1 L2140.5,679.7 L2142.1,611.7 L2143.7,608.4 L2145.3,569.6 L2147.0,611.7 L2148.6,644.0 L2150.2,624.6 L2151.8,663.5 L2153.4,624.6 L2155.1,715.3 L2156.7,721.8 L2157.7,601.9 L2158.9,529.1 L2160.6,585.7 L2162.2,621.4 L2163.8,634.3 L2165.7,663.5 L2167.4,634.3 L2169.0,579.3 L2170.6,621.4 L2172.2,587.4 L2173.8,666.7 L2175.5,621.4 L2177.1,608.4 L2178.7,595.5 L2180.3,614.9 L2181.9,650.5 L2183.6,650.5 L2185.2,679.7 L2186.8,786.6 L2188.4,757.4 L2190.0,715.3 L2191.7,725.0 L2193.3,731.5 L2194.6,721.8 L2196.2,807.6 L2197.8,780.1 L2199.4,734.7 L2201.1,780.1 L2202.7,738.0 L2204.3,699.1 L2205.9,631.1 L2207.5,631.1 L2209.1,647.3 L2210.1,757.4 L2211.7,708.8 L2213.4,666.7 L2215.0,621.4 L2216.0,585.7 L2217.6,621.4 L2219.2,660.2 L2220.8,676.4 L2221.8,721.8 L2223.1,715.3 L2224.7,673.2 L2226.3,763.9 L2227.9,767.1 L2229.6,778.5 L2231.2,731.5 L2232.8,692.6 L2234.4,747.7 L2236.0,731.5 L2237.7,750.9 L2239.3,725.0 L2240.9,708.8 L2242.5,731.5 L2244.1,747.7 L2245.7,692.6 L2247.4,676.4 L2249.0,699.1 L2250.6,721.8 L2252.2,721.8 L2253.8,699.1 L2255.5,721.8 L2257.1,725.0 L2258.7,738.0 L2260.3,744.5 L2261.9,721.8 L2263.6,705.6 L2265.2,721.8 L2266.8,699.1 L2268.4,686.2 L2270.0,689.4 L2271.7,650.5 L2273.3,618.1 L2274.9,627.9 L2276.5,653.8 L2278.1,627.9 L2279.8,627.9 L2281.4,660.2 L2283.0,660.2 L2284.6,569.6 L2286.2,563.1 L2287.9,496.7 L2289.5,537.2 L2291.1,576.0 L2292.7,666.7 L2294.3,853.8 L2296.0,760.3 L2297.7,693.6 L2298.8,706.5 L2299.9,713.5 L2301.0,726.9 L2302.1,694.6 L2303.2,658.3 L2304.3,626.8 L2305.5,621.2 L2306.6,611.4 L2307.7,606.7 L2309.3,660.2 L2310.5,553.0 L2311.6,442.8 L2312.7,336.3 L2314.4,420.4 L2316.0,447.1 L2317.7,473.9 L2319.4,437.1 L2320.5,422.8 L2321.7,405.4 L2322.7,437.0 L2323.7,470.5 L2324.9,483.5 L2326.0,493.9 L2327.2,455.7 L2328.4,427.1 L2330.1,443.8 L2331.7,490.6 L2332.7,509.0 L2333.7,520.6 L2334.9,522.2 L2336.1,527.3 L2337.7,537.3 L2339.4,626.8 L2340.5,674.4 L2341.6,714.6 L2342.7,760.3 L2344.4,820.4 L2346.1,837.1 L2347.7,793.7 L2349.0,786.2 L2350.3,776.3 L2351.5,769.6 L2352.8,760.3 L2353.9,731.1 L2355.0,713.5 L2356.1,680.2 L2357.2,690.2 L2358.3,713.2 L2359.4,726.9 L2360.5,684.6 L2361.7,661.8 L2362.8,626.8 L2363.9,604.4 L2365.0,594.7 L2366.1,576.7 L2367.4,558.5 L2368.8,557.9 L2370.1,534.0 L2371.5,521.9 L2372.8,507.2 L2373.9,486.7 L2375.0,473.7 L2376.1,453.8 L2377.3,444.3 L2378.5,437.1 L2379.5,438.7 L2380.5,438.8 L2381.6,465.1 L2382.8,493.9 L2384.5,527.3 L2384.5,606.7 L2385.8,554.2 L2387.1,498.9 L2388.3,516.8 L2389.5,537.3 L2390.6,542.9 L2391.7,533.7 L2392.8,535.6 L2394.5,560.7 L2394.5,593.4 L2395.7,576.0 L2397.0,543.4 L2398.2,533.1 L2399.5,507.2 L2400.9,498.0 L2402.4,496.6 L2403.8,484.9 L2404.9,509.0 L2406.1,542.1 L2407.2,566.1 L2408.4,575.1 L2409.6,591.3 L2410.7,599.0 L2411.9,613.9 L2413.1,652.6 L2414.3,685.5 L2415.5,682.5 L2416.7,699.9 L2417.9,693.9 L2419.1,704.6 L2420.3,632.8 L2421.5,551.7 L2422.7,579.8 L2423.9,618.6 L2425.1,630.8 L2426.3,637.7 L2427.5,660.5 L2428.7,685.5 L2429.9,698.4 L2431.1,709.4 L2432.2,720.0 L2433.4,738.1 L2434.6,738.5 L2435.8,724.0 L2437.0,720.9 L2438.2,714.2 L2439.7,659.2 L2441.1,678.1 L2442.5,710.0 L2444.0,731.2 L2445.4,757.3 L2446.6,800.6 L2447.9,840.5 L2449.1,889.1 L2450.4,926.0 L2451.6,969.9 L2452.7,912.9 L2453.8,850.5 L2454.9,795.5 L2456.4,685.5 L2458.3,807.5 L2459.5,735.3 L2460.7,661.6 L2462.1,747.8 L2463.3,771.0 L2464.5,797.9 L2465.5,685.5 L2466.9,648.1 L2468.3,594.7 L2469.5,612.7 L2470.7,637.7 L2472.6,628.2 L2473.8,662.9 L2475.0,695.1 L2476.2,677.2 L2477.4,666.4 L2478.7,661.1 L2479.9,649.6 L2481.2,642.5 L2482.4,641.0 L2483.6,637.7 L2484.8,640.6 L2486.0,656.8 L2487.2,672.1 L2488.4,685.5 L2489.3,408.4 L2490.5,381.4 L2491.7,355.9 L2492.9,383.0 L2494.1,398.9 L2495.3,375.4 L2496.5,355.9 L2497.7,329.6 L2498.9,300.9 L2500.1,324.1 L2501.3,351.1 L2502.5,436.5 L2503.7,513.5 L2504.9,548.6 L2506.1,585.2 L2507.5,508.7 L2508.6,510.3 L2509.7,501.7 L2510.8,504.0 L2512.3,542.2 L2513.5,538.0 L2514.7,523.1 L2515.9,548.4 L2517.0,575.6 L2518.2,561.6 L2519.4,542.2 L2520.6,560.4 L2521.8,580.4 L2523.0,563.6 L2524.2,542.2 L2525.4,584.4 L2526.6,628.2 L2528.0,716.6 L2529.9,661.6 L2531.1,661.8 L2532.3,652.1 L2533.5,614.7 L2534.7,590.0 L2535.9,543.2 L2537.1,494.4 L2538.3,441.0 L2539.5,389.3 L2540.7,414.4 L2541.9,422.8 L2543.1,407.1 L2544.3,398.9 L2545.5,421.4 L2546.7,432.3 L2548.1,346.3 L2549.3,393.3 L2550.5,441.9 L2551.7,482.2 L2552.9,508.7 L2554.1,455.8 L2555.3,408.4 L2556.5,404.7 L2557.7,398.9 L2558.8,387.9 L2560.0,379.8 L2561.2,377.1 L2562.4,365.4 L2563.6,394.0 L2564.8,432.3 L2566.0,464.2 L2567.2,494.4 L2568.4,489.2 L2569.6,489.6 L2571.0,685.5 L2572.9,666.4 L2574.1,663.6 L2575.3,659.2 L2576.5,694.8 L2577.7,747.6 L2578.9,722.8 L2580.1,695.1 L2581.3,683.1 L2582.5,685.5 L2583.7,625.0 L2584.9,556.5 L2586.1,504.9 L2587.3,458.6 L2588.5,489.3 L2589.7,518.3 L2590.9,492.4 L2592.1,470.5 L2593.2,507.1 L2594.4,542.2 L2595.9,446.6 L2597.3,207.8 L2598.5,202.7 L2599.7,199.2" fill="none" stroke="#ec6864" stroke-width="2.7"/>
<rect x="1288.2" y="268.8" width="19" height="18.5" fill="#fff" stroke="#8a91ad" stroke-width="3"/>
<ellipse cx="45.4" cy="249.8" rx="34" ry="75.6" fill="none" stroke="#1736f0" stroke-width="2" stroke-dasharray="8 7"/>
<ellipse cx="465.4" cy="249.8" rx="33.8" ry="75.6" fill="none" stroke="#1736f0" stroke-width="2" stroke-dasharray="8 7"/>
<ellipse cx="583.6" cy="249.8" rx="33.8" ry="75.6" fill="none" stroke="#1736f0" stroke-width="2" stroke-dasharray="8 7"/>
<ellipse cx="660.4" cy="249.8" rx="33.8" ry="75.6" fill="none" stroke="#1736f0" stroke-width="2" stroke-dasharray="8 7"/>
<ellipse cx="1357.4" cy="249.8" rx="20.8" ry="75.6" fill="none" stroke="#1736f0" stroke-width="2" stroke-dasharray="8 7"/>
<ellipse cx="1409.2" cy="249.8" rx="20.8" ry="75.6" fill="none" stroke="#1736f0" stroke-width="2" stroke-dasharray="8 7"/>
<ellipse cx="1473.5" cy="249.8" rx="34" ry="75.6" fill="none" stroke="#1736f0" stroke-width="2" stroke-dasharray="8 7"/>
<ellipse cx="1574.5" cy="249.8" rx="34" ry="75.6" fill="none" stroke="#1736f0" stroke-width="2" stroke-dasharray="8 7"/>
<ellipse cx="2602" cy="249.8" rx="34" ry="75.6" fill="none" stroke="#1736f0" stroke-width="2" stroke-dasharray="8 7"/>
<line x1="2650" y1="173" x2="2650" y2="1331" stroke="#ec6864" stroke-width="2"/>
<line x1="2750" y1="173" x2="2750" y2="1331" stroke="#000" stroke-width="2"/>
<text x="2662" y="179.5" font-family="Liberation Sans, Arial, sans-serif" font-size="20" fill="#9aa3bf">37.37%</text>
<text x="2662" y="350.7" font-family="Liberation Sans, Arial, sans-serif" font-size="20" fill="#9aa3bf">24.91%</text>
<text x="2662" y="521.8" font-family="Liberation Sans, Arial, sans-serif" font-size="20" fill="#9aa3bf">12.46%</text>
<text x="2662" y="693.1" font-family="Liberation Sans, Arial, sans-serif" font-size="20" fill="#9aa3bf">0%</text>
<text x="2662" y="854.0" font-family="Liberation Sans, Arial, sans-serif" font-size="20" fill="#9aa3bf">-11.71%</text>
<text x="2662" y="1015.0" font-family="Liberation Sans, Arial, sans-serif" font-size="20" fill="#9aa3bf">-23.42%</text>
<text x="2662" y="1175.9" font-family="Liberation Sans, Arial, sans-serif" font-size="20" fill="#9aa3bf">-35.13%</text>
<text x="2662" y="1336.9" font-family="Liberation Sans, Arial, sans-serif" font-size="20" fill="#9aa3bf">-46.84%</text>
<text x="2762" y="179.5" font-family="Liberation Sans, Arial, sans-serif" font-size="20" fill="#9aa3bf">390</text>
<text x="2762" y="324.2" font-family="Liberation Sans, Arial, sans-serif" font-size="20" fill="#9aa3bf">344</text>
<text x="2762" y="468.9" font-family="Liberation Sans, Arial, sans-serif" font-size="20" fill="#9aa3bf">298</text>
<text x="2762" y="613.6" font-family="Liberation Sans, Arial, sans-serif" font-size="20" fill="#9aa3bf">252</text>
<text x="2762" y="758.3" font-family="Liberation Sans, Arial, sans-serif" font-size="20" fill="#9aa3bf">206</text>
<text x="2762" y="903.0" font-family="Liberation Sans, Arial, sans-serif" font-size="20" fill="#9aa3bf">160</text>
<text x="2762" y="1047.7" font-family="Liberation Sans, Arial, sans-serif" font-size="20" fill="#9aa3bf">115</text>
<text x="2762" y="1192.4" font-family="Liberation Sans, Arial, sans-serif" font-size="20" fill="#9aa3bf">69.115</text>
<text x="2762" y="1337.1" font-family="Liberation Sans, Arial, sans-serif" font-size="20" fill="#9aa3bf">23.23</text>
<rect x="2656" y="184.4" width="80" height="25.6" fill="#ea6762"/><text x="2662" y="204.5" font-family="Liberation Sans, Arial, sans-serif" font-size="20" fill="#fff">35.52%</text>
<rect x="2656" y="265.6" width="80" height="26" fill="#a0a8c4"/><text x="2662" y="285.8" font-family="Liberation Sans, Arial, sans-serif" font-size="20" fill="#f0f2f8">29.62%</text>
<rect x="2756" y="265.6" width="62" height="26" fill="#a0a8c4"/><text x="2762" y="285.8" font-family="Liberation Sans, Arial, sans-serif" font-size="20" fill="#f0f2f8">356.5</text>
<rect x="2756" y="1039.4" width="42.4" height="25.6" fill="#000"/><text x="2762" y="1059.5" font-family="Liberation Sans, Arial, sans-serif" font-size="20" font-weight="bold" fill="#fff">111</text>
<text x="24" y="1356.5" font-family="Liberation Sans, Arial, sans-serif" font-size="20" fill="#9aa3bf">22 Jan 18</text>
<text x="230.3" y="1356.5" font-family="Liberation Sans, Arial, sans-serif" font-size="20" fill="#9aa3bf" text-anchor="middle">07 Jul 18</text>
<text x="446.4" y="1356.5" font-family="Liberation Sans, Arial, sans-serif" font-size="20" fill="#9aa3bf" text-anchor="middle">20 Dec 18</text>
<text x="662.5" y="1356.5" font-family="Liberation Sans, Arial, sans-serif" font-size="20" fill="#9aa3bf" text-anchor="middle">04 Jun 19</text>
<text x="878.6" y="1356.5" font-family="Liberation Sans, Arial, sans-serif" font-size="20" fill="#9aa3bf" text-anchor="middle">17 Nov 19</text>
<text x="1094.8" y="1356.5" font-family="Liberation Sans, Arial, sans-serif" font-size="20" fill="#9aa3bf" text-anchor="middle">01 May 20</text>
<text x="1310.8" y="1356.5" font-family="Liberation Sans, Arial, sans-serif" font-size="20" fill="#9aa3bf" text-anchor="middle">14 Oct 20</text>
<text x="1527.0" y="1356.5" font-family="Liberation Sans, Arial, sans-serif" font-size="20" fill="#9aa3bf" text-anchor="middle">29 Mar 21</text>
<text x="1743.0" y="1356.5" font-family="Liberation Sans, Arial, sans-serif" font-size="20" fill="#9aa3bf" text-anchor="middle">11 Sep 21</text>
<text x="1959.1" y="1356.5" font-family="Liberation Sans, Arial, sans-serif" font-size="20" fill="#9aa3bf" text-anchor="middle">24 Feb 22</text>
<text x="2175.2" y="1356.5" font-family="Liberation Sans, Arial, sans-serif" font-size="20" fill="#9aa3bf" text-anchor="middle">09 Aug 22</text>
<text x="2391.3" y="1356.5" font-family="Liberation Sans, Arial, sans-serif" font-size="20" fill="#9aa3bf" text-anchor="middle">22 Jan 23</text>
<text x="2640" y="1356.5" font-family="Liberation Sans, Arial, sans-serif" font-size="20" fill="#9aa3bf" text-anchor="middle">02 Jul 23</text>
<text x="17.45" y="157" font-family="Liberation Sans, Arial, sans-serif" font-size="44.5" font-weight="bold" fill="#e8401e" textLength="94" lengthAdjust="spacingAndGlyphs">-50%</text>
<text x="418.20" y="157" font-family="Liberation Sans, Arial, sans-serif" font-size="44.5" font-weight="bold" fill="#e8401e" textLength="94" lengthAdjust="spacingAndGlyphs">-28%</text>
<text x="536.20" y="157" font-family="Liberation Sans, Arial, sans-serif" font-size="44.5" font-weight="bold" fill="#e8401e" textLength="94" lengthAdjust="spacingAndGlyphs">-35%</text>
<text x="657.45" y="157" font-family="Liberation Sans, Arial, sans-serif" font-size="44.5" font-weight="bold" fill="#e8401e" textLength="94" lengthAdjust="spacingAndGlyphs">-40%</text>
<text x="1253.70" y="157" font-family="Liberation Sans, Arial, sans-serif" font-size="44.5" font-weight="bold" fill="#e8401e" textLength="94" lengthAdjust="spacingAndGlyphs">-30%</text>
<text x="1361.20" y="157" font-family="Liberation Sans, Arial, sans-serif" font-size="44.5" font-weight="bold" fill="#e8401e" textLength="94" lengthAdjust="spacingAndGlyphs">-37%</text>
<text x="1464.95" y="157" font-family="Liberation Sans, Arial, sans-serif" font-size="44.5" font-weight="bold" fill="#e8401e" textLength="94" lengthAdjust="spacingAndGlyphs">-38%</text>
<text x="1605.70" y="157" font-family="Liberation Sans, Arial, sans-serif" font-size="44.5" font-weight="bold" fill="#e8401e" textLength="94" lengthAdjust="spacingAndGlyphs">-70%</text>
</svg>
</body></html>
